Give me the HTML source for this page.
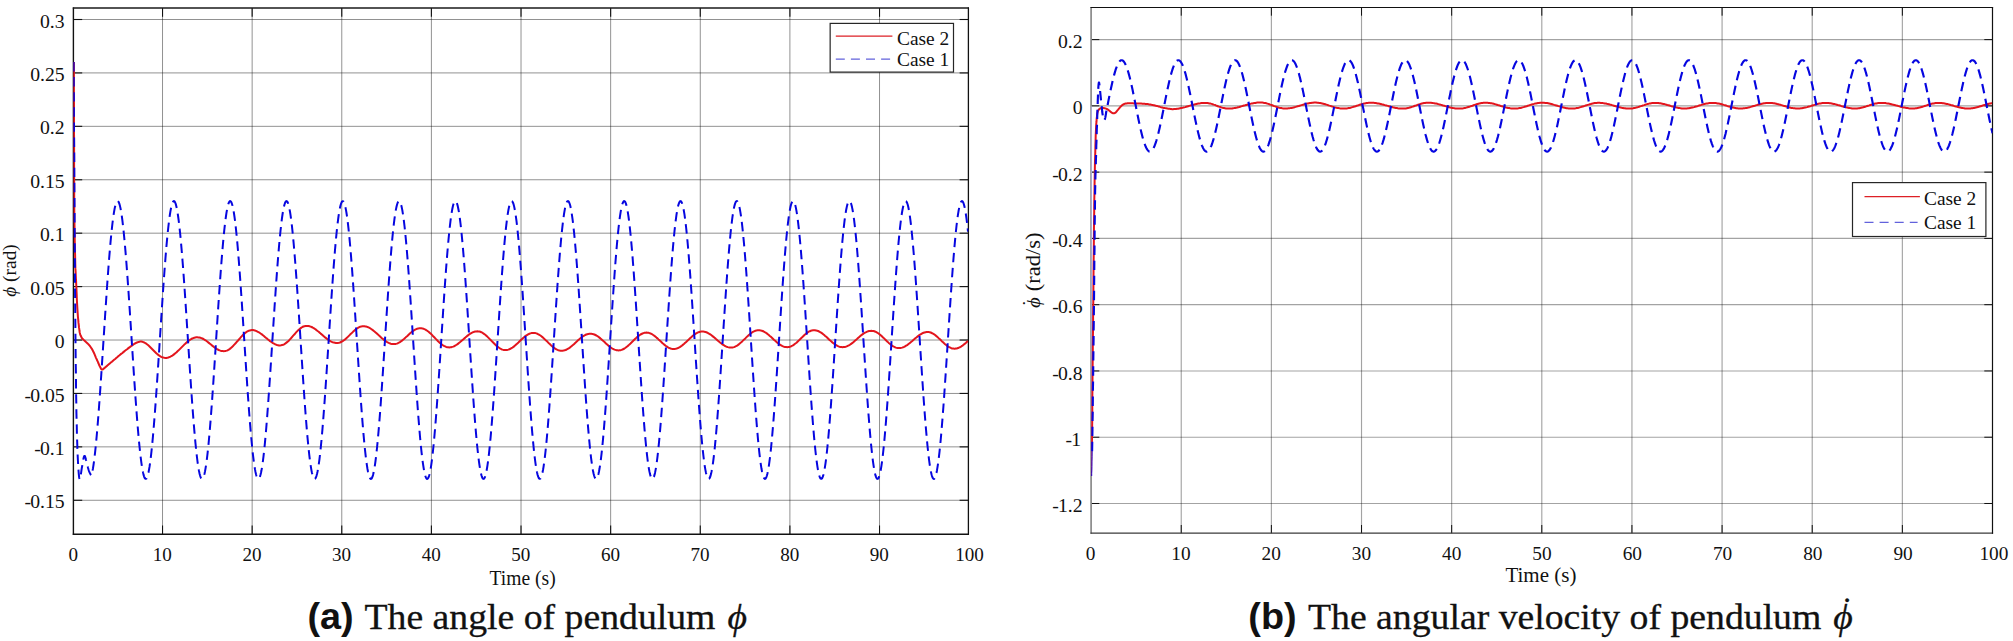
<!DOCTYPE html>
<html lang="en"><head><meta charset="utf-8"><title>Pendulum angle and angular velocity</title>
<style>html,body{margin:0;padding:0;background:#fff;overflow:hidden}svg{display:block}.se{font-family:"Liberation Serif",serif}.sa{font-family:"Liberation Sans",sans-serif}</style></head>
<body>
<svg width="2013" height="641" viewBox="0 0 2013 641">
<rect width="2013" height="641" fill="#fff"/>
<defs><clipPath id="cl"><rect x="73.4" y="8" width="894.9" height="526.4"/></clipPath><clipPath id="cr"><rect x="1091.1" y="7.5" width="901.4" height="525.6"/></clipPath></defs>
<g stroke="rgba(0,0,0,0.43)" stroke-width="1.0" fill="none">
<line x1="162.53" y1="8.0" x2="162.53" y2="534.3"/>
<line x1="252.15" y1="8.0" x2="252.15" y2="534.3"/>
<line x1="341.77" y1="8.0" x2="341.77" y2="534.3"/>
<line x1="431.40" y1="8.0" x2="431.40" y2="534.3"/>
<line x1="521.02" y1="8.0" x2="521.02" y2="534.3"/>
<line x1="610.65" y1="8.0" x2="610.65" y2="534.3"/>
<line x1="700.27" y1="8.0" x2="700.27" y2="534.3"/>
<line x1="789.90" y1="8.0" x2="789.90" y2="534.3"/>
<line x1="879.52" y1="8.0" x2="879.52" y2="534.3"/>
<line x1="73.4" y1="19.50" x2="968.4" y2="19.50"/>
<line x1="73.4" y1="72.92" x2="968.4" y2="72.92"/>
<line x1="73.4" y1="126.34" x2="968.4" y2="126.34"/>
<line x1="73.4" y1="179.76" x2="968.4" y2="179.76"/>
<line x1="73.4" y1="233.18" x2="968.4" y2="233.18"/>
<line x1="73.4" y1="286.60" x2="968.4" y2="286.60"/>
<line x1="73.4" y1="340.02" x2="968.4" y2="340.02"/>
<line x1="73.4" y1="393.44" x2="968.4" y2="393.44"/>
<line x1="73.4" y1="446.86" x2="968.4" y2="446.86"/>
<line x1="73.4" y1="500.28" x2="968.4" y2="500.28"/>
</g>
<g stroke="rgba(0,0,0,0.36)" stroke-width="1.15" fill="none">
<line x1="1181.24" y1="7.5" x2="1181.24" y2="533.2"/>
<line x1="1271.38" y1="7.5" x2="1271.38" y2="533.2"/>
<line x1="1361.52" y1="7.5" x2="1361.52" y2="533.2"/>
<line x1="1451.66" y1="7.5" x2="1451.66" y2="533.2"/>
<line x1="1541.80" y1="7.5" x2="1541.80" y2="533.2"/>
<line x1="1631.94" y1="7.5" x2="1631.94" y2="533.2"/>
<line x1="1722.08" y1="7.5" x2="1722.08" y2="533.2"/>
<line x1="1812.22" y1="7.5" x2="1812.22" y2="533.2"/>
<line x1="1902.36" y1="7.5" x2="1902.36" y2="533.2"/>
<line x1="1091.1" y1="39.60" x2="1992.5" y2="39.60"/>
<line x1="1091.1" y1="105.87" x2="1992.5" y2="105.87"/>
<line x1="1091.1" y1="172.14" x2="1992.5" y2="172.14"/>
<line x1="1091.1" y1="238.41" x2="1992.5" y2="238.41"/>
<line x1="1091.1" y1="304.68" x2="1992.5" y2="304.68"/>
<line x1="1091.1" y1="370.95" x2="1992.5" y2="370.95"/>
<line x1="1091.1" y1="437.22" x2="1992.5" y2="437.22"/>
<line x1="1091.1" y1="503.49" x2="1992.5" y2="503.49"/>
</g>
<g fill="none" stroke-linecap="butt">
<g stroke="#111" stroke-width="1.1">
<line x1="162.53" y1="534.3" x2="162.53" y2="525.5"/>
<line x1="162.53" y1="8.0" x2="162.53" y2="16.8"/>
<line x1="252.15" y1="534.3" x2="252.15" y2="525.5"/>
<line x1="252.15" y1="8.0" x2="252.15" y2="16.8"/>
<line x1="341.77" y1="534.3" x2="341.77" y2="525.5"/>
<line x1="341.77" y1="8.0" x2="341.77" y2="16.8"/>
<line x1="431.40" y1="534.3" x2="431.40" y2="525.5"/>
<line x1="431.40" y1="8.0" x2="431.40" y2="16.8"/>
<line x1="521.02" y1="534.3" x2="521.02" y2="525.5"/>
<line x1="521.02" y1="8.0" x2="521.02" y2="16.8"/>
<line x1="610.65" y1="534.3" x2="610.65" y2="525.5"/>
<line x1="610.65" y1="8.0" x2="610.65" y2="16.8"/>
<line x1="700.27" y1="534.3" x2="700.27" y2="525.5"/>
<line x1="700.27" y1="8.0" x2="700.27" y2="16.8"/>
<line x1="789.90" y1="534.3" x2="789.90" y2="525.5"/>
<line x1="789.90" y1="8.0" x2="789.90" y2="16.8"/>
<line x1="879.52" y1="534.3" x2="879.52" y2="525.5"/>
<line x1="879.52" y1="8.0" x2="879.52" y2="16.8"/>
<line x1="73.4" y1="19.50" x2="82.2" y2="19.50"/>
<line x1="968.4" y1="19.50" x2="959.6" y2="19.50"/>
<line x1="73.4" y1="72.92" x2="82.2" y2="72.92"/>
<line x1="968.4" y1="72.92" x2="959.6" y2="72.92"/>
<line x1="73.4" y1="126.34" x2="82.2" y2="126.34"/>
<line x1="968.4" y1="126.34" x2="959.6" y2="126.34"/>
<line x1="73.4" y1="179.76" x2="82.2" y2="179.76"/>
<line x1="968.4" y1="179.76" x2="959.6" y2="179.76"/>
<line x1="73.4" y1="233.18" x2="82.2" y2="233.18"/>
<line x1="968.4" y1="233.18" x2="959.6" y2="233.18"/>
<line x1="73.4" y1="286.60" x2="82.2" y2="286.60"/>
<line x1="968.4" y1="286.60" x2="959.6" y2="286.60"/>
<line x1="73.4" y1="340.02" x2="82.2" y2="340.02"/>
<line x1="968.4" y1="340.02" x2="959.6" y2="340.02"/>
<line x1="73.4" y1="393.44" x2="82.2" y2="393.44"/>
<line x1="968.4" y1="393.44" x2="959.6" y2="393.44"/>
<line x1="73.4" y1="446.86" x2="82.2" y2="446.86"/>
<line x1="968.4" y1="446.86" x2="959.6" y2="446.86"/>
<line x1="73.4" y1="500.28" x2="82.2" y2="500.28"/>
<line x1="968.4" y1="500.28" x2="959.6" y2="500.28"/>
</g>
<line x1="73.4" y1="7.4" x2="73.4" y2="534.9" stroke="#111" stroke-width="1.4"/>
<line x1="72.80000000000001" y1="534.3" x2="969.0" y2="534.3" stroke="#111" stroke-width="1.4"/>
<line x1="72.80000000000001" y1="8.0" x2="969.0" y2="8.0" stroke="#1a1a1a" stroke-width="1.3"/>
<line x1="968.4" y1="7.4" x2="968.4" y2="534.9" stroke="#111" stroke-width="1.3"/>
</g>
<g fill="none" stroke-linecap="butt">
<g stroke="#111" stroke-width="1.0">
<line x1="1181.24" y1="533.2" x2="1181.24" y2="525.0"/>
<line x1="1181.24" y1="7.5" x2="1181.24" y2="15.7"/>
<line x1="1271.38" y1="533.2" x2="1271.38" y2="525.0"/>
<line x1="1271.38" y1="7.5" x2="1271.38" y2="15.7"/>
<line x1="1361.52" y1="533.2" x2="1361.52" y2="525.0"/>
<line x1="1361.52" y1="7.5" x2="1361.52" y2="15.7"/>
<line x1="1451.66" y1="533.2" x2="1451.66" y2="525.0"/>
<line x1="1451.66" y1="7.5" x2="1451.66" y2="15.7"/>
<line x1="1541.80" y1="533.2" x2="1541.80" y2="525.0"/>
<line x1="1541.80" y1="7.5" x2="1541.80" y2="15.7"/>
<line x1="1631.94" y1="533.2" x2="1631.94" y2="525.0"/>
<line x1="1631.94" y1="7.5" x2="1631.94" y2="15.7"/>
<line x1="1722.08" y1="533.2" x2="1722.08" y2="525.0"/>
<line x1="1722.08" y1="7.5" x2="1722.08" y2="15.7"/>
<line x1="1812.22" y1="533.2" x2="1812.22" y2="525.0"/>
<line x1="1812.22" y1="7.5" x2="1812.22" y2="15.7"/>
<line x1="1902.36" y1="533.2" x2="1902.36" y2="525.0"/>
<line x1="1902.36" y1="7.5" x2="1902.36" y2="15.7"/>
<line x1="1091.1" y1="39.60" x2="1099.3" y2="39.60"/>
<line x1="1992.5" y1="39.60" x2="1984.3" y2="39.60"/>
<line x1="1091.1" y1="105.87" x2="1099.3" y2="105.87"/>
<line x1="1992.5" y1="105.87" x2="1984.3" y2="105.87"/>
<line x1="1091.1" y1="172.14" x2="1099.3" y2="172.14"/>
<line x1="1992.5" y1="172.14" x2="1984.3" y2="172.14"/>
<line x1="1091.1" y1="238.41" x2="1099.3" y2="238.41"/>
<line x1="1992.5" y1="238.41" x2="1984.3" y2="238.41"/>
<line x1="1091.1" y1="304.68" x2="1099.3" y2="304.68"/>
<line x1="1992.5" y1="304.68" x2="1984.3" y2="304.68"/>
<line x1="1091.1" y1="370.95" x2="1099.3" y2="370.95"/>
<line x1="1992.5" y1="370.95" x2="1984.3" y2="370.95"/>
<line x1="1091.1" y1="437.22" x2="1099.3" y2="437.22"/>
<line x1="1992.5" y1="437.22" x2="1984.3" y2="437.22"/>
<line x1="1091.1" y1="503.49" x2="1099.3" y2="503.49"/>
<line x1="1992.5" y1="503.49" x2="1984.3" y2="503.49"/>
</g>
<line x1="1091.1" y1="6.9" x2="1091.1" y2="533.8000000000001" stroke="#8a8a8a" stroke-width="1.7"/>
<line x1="1090.5" y1="533.2" x2="1993.1" y2="533.2" stroke="#3a3a3a" stroke-width="1.3"/>
<line x1="1090.5" y1="7.5" x2="1993.1" y2="7.5" stroke="#111" stroke-width="1.2"/>
<line x1="1992.5" y1="6.9" x2="1992.5" y2="533.8000000000001" stroke="#111" stroke-width="1.2"/>
</g>
<g clip-path="url(#cl)" fill="none" stroke-linejoin="round">
<path d="M73.9,62.0 L73.9,73.2 L73.9,88.6 L74.0,107.1 L74.0,127.2 L74.1,147.9 L74.1,167.8 L74.2,185.5 L74.2,200.0 L74.3,211.5 L74.4,221.3 L74.6,229.8 L74.7,237.1 L74.8,243.6 L74.9,249.4 L75.1,254.8 L75.2,260.0 L75.3,264.7 L75.4,268.4 L75.6,271.5 L75.7,274.0 L75.8,276.3 L75.9,278.6 L76.1,281.1 L76.2,284.0 L76.4,287.4 L76.5,290.9 L76.7,294.6 L76.8,298.3 L77.0,302.0 L77.2,305.5 L77.4,308.9 L77.6,312.0 L77.8,314.9 L78.0,317.7 L78.3,320.3 L78.5,322.9 L78.8,325.2 L79.0,327.4 L79.3,329.3 L79.5,331.0 L79.7,332.4 L80.0,333.6 L80.2,334.5 L80.5,335.2 L80.8,335.8 L81.0,336.3 L81.3,336.8 L81.5,337.3 L81.7,337.8 L82.0,338.1 L82.2,338.4 L82.4,338.7 L82.6,338.9 L82.8,339.1 L83.1,339.3 L83.4,339.6 L83.7,339.9 L84.1,340.3 L84.5,340.6 L84.9,341.0 L85.3,341.4 L85.7,341.7 L86.1,342.1 L86.5,342.5 L86.9,342.9 L87.3,343.2 L87.6,343.5 L88.0,343.9 L88.4,344.3 L88.8,344.7 L89.2,345.1 L89.6,345.6 L90.0,346.1 L90.4,346.7 L90.8,347.3 L91.2,347.9 L91.7,348.6 L92.1,349.3 L92.5,350.1 L93.0,351.0 L93.5,352.0 L94.0,353.0 L94.5,354.2 L95.0,355.4 L95.5,356.6 L96.0,357.8 L96.5,358.9 L97.0,360.0 L97.5,361.1 L98.0,362.2 L98.4,363.3 L98.9,364.3 L99.3,365.4 L99.8,366.3 L100.2,367.1 L100.5,367.8 L100.8,368.3 L101.0,368.7 L101.2,369.0 L101.4,369.3 L101.6,369.4 L101.7,369.5 L101.9,369.6 L102.1,369.6 L102.3,369.6 L102.5,369.6 L102.7,369.5 L102.9,369.3 L103.1,369.1 L103.4,368.9 L103.7,368.7 L104.0,368.4 L104.4,368.1 L104.8,367.8 L105.2,367.4 L105.6,367.1 L106.1,366.6 L106.7,366.2 L107.3,365.6 L108.0,365.0 L108.8,364.3 L109.8,363.5 L110.8,362.6 L111.9,361.7 L113.0,360.7 L114.1,359.8 L115.2,358.9 L116.2,358.0 L117.2,357.2 L118.2,356.3 L119.2,355.5 L120.1,354.7 L121.1,353.9 L122.1,353.2 L123.0,352.4 L124.0,351.6 L125.0,350.8 L126.0,350.0 L127.1,349.2 L128.1,348.4 L129.1,347.6 L130.1,346.9 L131.0,346.2 L131.8,345.6 L132.5,345.1 L133.2,344.6 L133.8,344.2 L134.4,343.9 L134.9,343.5 L135.5,343.2 L136.0,343.0 L136.5,342.7 L137.0,342.5 L137.6,342.3 L138.2,342.1 L138.7,341.9 L139.2,341.8 L139.6,341.7 L140.0,341.6 L140.3,341.5 L141.3,341.6 L142.3,341.8 L143.3,342.1 L144.3,342.5 L145.3,343.1 L146.3,343.7 L147.3,344.5 L148.3,345.3 L149.3,346.2 L150.3,347.2 L151.3,348.2 L152.3,349.2 L153.3,350.2 L154.3,351.2 L155.3,352.2 L156.3,353.2 L157.3,354.1 L158.3,354.9 L159.3,355.7 L160.3,356.3 L161.3,356.9 L162.3,357.3 L163.3,357.6 L164.3,357.8 L165.3,357.9 L166.3,357.9 L167.3,357.7 L168.3,357.5 L169.3,357.1 L170.3,356.7 L171.3,356.2 L172.3,355.6 L173.3,354.9 L174.3,354.1 L175.3,353.3 L176.3,352.5 L177.3,351.5 L178.3,350.6 L179.3,349.6 L180.3,348.6 L181.3,347.6 L182.3,346.6 L183.3,345.6 L184.3,344.6 L185.3,343.7 L186.3,342.7 L187.3,341.9 L188.3,341.1 L189.3,340.3 L190.3,339.6 L191.3,339.0 L192.3,338.5 L193.3,338.1 L194.3,337.7 L195.3,337.5 L196.3,337.3 L197.3,337.3 L198.3,337.4 L199.3,337.5 L200.4,337.8 L201.4,338.1 L202.4,338.5 L203.4,339.0 L204.4,339.6 L205.5,340.3 L206.5,341.0 L207.5,341.8 L208.5,342.6 L209.5,343.4 L210.6,344.2 L211.6,345.1 L212.6,345.9 L213.6,346.7 L214.6,347.5 L215.6,348.2 L216.7,348.9 L217.7,349.5 L218.7,350.0 L219.7,350.4 L220.7,350.7 L221.8,351.0 L222.8,351.1 L223.8,351.2 L224.8,351.1 L225.8,350.9 L226.8,350.6 L227.8,350.2 L228.8,349.6 L229.8,348.9 L230.8,348.1 L231.8,347.2 L232.8,346.3 L233.8,345.2 L234.8,344.1 L235.8,343.0 L236.8,341.8 L237.9,340.7 L238.9,339.5 L239.9,338.3 L240.9,337.2 L241.9,336.1 L242.9,335.0 L243.9,334.1 L244.9,333.2 L245.9,332.4 L246.9,331.7 L247.9,331.1 L248.9,330.7 L249.9,330.4 L250.9,330.2 L251.9,330.1 L252.9,330.1 L253.9,330.3 L254.9,330.5 L255.9,330.9 L256.9,331.3 L257.9,331.8 L258.9,332.3 L259.9,333.0 L260.9,333.7 L261.9,334.4 L262.9,335.2 L263.9,336.0 L264.9,336.9 L265.9,337.8 L267.0,338.6 L268.0,339.5 L269.0,340.3 L270.0,341.1 L271.0,341.8 L272.0,342.5 L273.0,343.2 L274.0,343.7 L275.0,344.2 L276.0,344.6 L277.0,345.0 L278.0,345.2 L279.0,345.4 L280.0,345.4 L281.0,345.3 L282.0,345.1 L283.1,344.8 L284.1,344.3 L285.1,343.7 L286.1,342.9 L287.1,342.1 L288.2,341.2 L289.2,340.2 L290.2,339.1 L291.2,338.0 L292.2,336.8 L293.2,335.6 L294.3,334.5 L295.3,333.3 L296.3,332.2 L297.3,331.1 L298.3,330.1 L299.4,329.2 L300.4,328.4 L301.4,327.6 L302.4,327.0 L303.4,326.5 L304.5,326.2 L305.5,326.0 L306.5,325.9 L307.5,325.9 L308.5,326.1 L309.5,326.3 L310.6,326.6 L311.6,327.0 L312.6,327.5 L313.6,328.1 L314.6,328.7 L315.6,329.4 L316.6,330.2 L317.6,331.0 L318.7,331.8 L319.7,332.7 L320.7,333.6 L321.7,334.4 L322.7,335.3 L323.7,336.2 L324.7,337.1 L325.8,337.9 L326.8,338.7 L327.8,339.5 L328.8,340.2 L329.8,340.8 L330.8,341.4 L331.8,341.9 L332.8,342.3 L333.9,342.6 L334.9,342.8 L335.9,343.0 L336.9,343.0 L337.9,342.9 L338.9,342.8 L340.0,342.5 L341.0,342.0 L342.0,341.5 L343.0,340.9 L344.0,340.2 L345.1,339.4 L346.1,338.5 L347.1,337.6 L348.1,336.6 L349.1,335.6 L350.1,334.6 L351.2,333.6 L352.2,332.6 L353.2,331.6 L354.2,330.7 L355.2,329.8 L356.3,329.0 L357.3,328.3 L358.3,327.7 L359.3,327.2 L360.3,326.7 L361.4,326.4 L362.4,326.3 L363.4,326.2 L364.4,326.2 L365.4,326.4 L366.4,326.6 L367.5,327.0 L368.5,327.4 L369.5,327.9 L370.5,328.5 L371.5,329.2 L372.5,329.9 L373.5,330.7 L374.5,331.5 L375.6,332.4 L376.6,333.3 L377.6,334.2 L378.6,335.1 L379.6,336.1 L380.6,337.0 L381.6,337.9 L382.7,338.8 L383.7,339.6 L384.7,340.4 L385.7,341.1 L386.7,341.8 L387.7,342.4 L388.7,342.9 L389.7,343.3 L390.8,343.7 L391.8,343.9 L392.8,344.1 L393.8,344.1 L394.8,344.0 L395.8,343.9 L396.9,343.6 L397.9,343.2 L398.9,342.7 L399.9,342.1 L400.9,341.4 L402.0,340.7 L403.0,339.8 L404.0,339.0 L405.0,338.1 L406.0,337.1 L407.1,336.2 L408.1,335.2 L409.1,334.2 L410.1,333.3 L411.1,332.5 L412.1,331.6 L413.2,330.9 L414.2,330.2 L415.2,329.6 L416.2,329.1 L417.2,328.7 L418.3,328.4 L419.3,328.3 L420.3,328.2 L421.3,328.3 L422.4,328.4 L423.4,328.7 L424.4,329.2 L425.5,329.7 L426.5,330.3 L427.5,331.0 L428.6,331.8 L429.6,332.7 L430.6,333.6 L431.7,334.6 L432.7,335.7 L433.7,336.7 L434.8,337.8 L435.8,338.9 L436.8,339.9 L437.8,341.0 L438.9,342.0 L439.9,342.9 L440.9,343.8 L442.0,344.6 L443.0,345.3 L444.0,345.9 L445.1,346.4 L446.1,346.9 L447.1,347.2 L448.2,347.3 L449.2,347.4 L450.2,347.3 L451.2,347.2 L452.2,346.9 L453.2,346.6 L454.2,346.2 L455.2,345.6 L456.2,345.0 L457.2,344.4 L458.2,343.6 L459.2,342.8 L460.2,342.0 L461.2,341.1 L462.2,340.3 L463.2,339.4 L464.3,338.4 L465.3,337.6 L466.3,336.7 L467.3,335.9 L468.3,335.1 L469.3,334.3 L470.3,333.7 L471.3,333.1 L472.3,332.5 L473.3,332.1 L474.3,331.8 L475.3,331.5 L476.3,331.4 L477.3,331.3 L478.3,331.4 L479.3,331.5 L480.3,331.8 L481.3,332.2 L482.3,332.7 L483.3,333.4 L484.3,334.1 L485.3,334.8 L486.3,335.7 L487.3,336.6 L488.3,337.6 L489.3,338.6 L490.3,339.6 L491.4,340.7 L492.4,341.8 L493.4,342.8 L494.4,343.8 L495.4,344.8 L496.4,345.7 L497.4,346.6 L498.4,347.3 L499.4,348.0 L500.4,348.7 L501.4,349.2 L502.4,349.6 L503.4,349.9 L504.4,350.0 L505.4,350.1 L506.4,350.0 L507.4,349.9 L508.4,349.6 L509.4,349.2 L510.4,348.8 L511.4,348.2 L512.4,347.6 L513.4,346.9 L514.4,346.1 L515.4,345.2 L516.4,344.3 L517.4,343.4 L518.4,342.5 L519.4,341.5 L520.4,340.5 L521.4,339.6 L522.4,338.7 L523.4,337.8 L524.4,336.9 L525.4,336.1 L526.4,335.4 L527.4,334.8 L528.4,334.2 L529.4,333.8 L530.4,333.4 L531.4,333.1 L532.4,333.0 L533.4,332.9 L534.4,333.0 L535.4,333.1 L536.4,333.4 L537.4,333.8 L538.4,334.3 L539.4,334.9 L540.4,335.5 L541.4,336.3 L542.4,337.1 L543.4,338.0 L544.4,338.9 L545.4,339.9 L546.4,340.8 L547.5,341.8 L548.5,342.9 L549.5,343.8 L550.5,344.8 L551.5,345.7 L552.5,346.6 L553.5,347.4 L554.5,348.2 L555.5,348.8 L556.5,349.4 L557.5,349.9 L558.5,350.3 L559.5,350.6 L560.5,350.7 L561.5,350.8 L562.5,350.7 L563.6,350.6 L564.6,350.3 L565.6,350.0 L566.7,349.5 L567.7,348.9 L568.7,348.3 L569.8,347.6 L570.8,346.8 L571.8,346.0 L572.9,345.1 L573.9,344.2 L574.9,343.2 L576.0,342.2 L577.0,341.3 L578.0,340.3 L579.0,339.4 L580.1,338.5 L581.1,337.7 L582.1,336.9 L583.2,336.2 L584.2,335.6 L585.2,335.0 L586.3,334.5 L587.3,334.2 L588.3,333.9 L589.4,333.8 L590.4,333.7 L591.4,333.8 L592.4,333.9 L593.4,334.2 L594.4,334.5 L595.4,335.0 L596.4,335.5 L597.4,336.1 L598.4,336.8 L599.4,337.6 L600.4,338.4 L601.4,339.3 L602.4,340.2 L603.4,341.1 L604.5,342.0 L605.5,343.0 L606.5,343.9 L607.5,344.8 L608.5,345.7 L609.5,346.5 L610.5,347.3 L611.5,348.0 L612.5,348.6 L613.5,349.1 L614.5,349.6 L615.5,349.9 L616.5,350.2 L617.5,350.3 L618.5,350.4 L619.5,350.3 L620.5,350.2 L621.5,349.9 L622.5,349.5 L623.5,349.0 L624.5,348.5 L625.5,347.8 L626.5,347.0 L627.5,346.2 L628.5,345.4 L629.5,344.4 L630.5,343.5 L631.5,342.5 L632.5,341.5 L633.5,340.5 L634.5,339.5 L635.5,338.6 L636.5,337.6 L637.5,336.8 L638.5,336.0 L639.5,335.2 L640.5,334.5 L641.5,334.0 L642.5,333.5 L643.5,333.1 L644.5,332.8 L645.5,332.7 L646.5,332.6 L647.5,332.7 L648.5,332.8 L649.5,333.1 L650.5,333.5 L651.5,333.9 L652.5,334.5 L653.5,335.2 L654.5,335.9 L655.5,336.7 L656.5,337.6 L657.5,338.4 L658.5,339.4 L659.5,340.3 L660.6,341.3 L661.6,342.2 L662.6,343.2 L663.6,344.0 L664.6,344.9 L665.6,345.7 L666.6,346.4 L667.6,347.1 L668.6,347.7 L669.6,348.1 L670.6,348.5 L671.6,348.8 L672.6,348.9 L673.6,349.0 L674.6,348.9 L675.6,348.8 L676.7,348.5 L677.7,348.1 L678.7,347.7 L679.8,347.1 L680.8,346.4 L681.8,345.7 L682.8,344.9 L683.9,344.0 L684.9,343.1 L685.9,342.2 L686.9,341.2 L688.0,340.2 L689.0,339.3 L690.0,338.3 L691.0,337.4 L692.0,336.5 L693.1,335.6 L694.1,334.8 L695.1,334.1 L696.1,333.4 L697.2,332.8 L698.2,332.4 L699.2,332.0 L700.2,331.7 L701.3,331.6 L702.3,331.5 L703.3,331.6 L704.3,331.7 L705.4,332.0 L706.4,332.3 L707.4,332.7 L708.4,333.3 L709.4,333.9 L710.5,334.5 L711.5,335.3 L712.5,336.1 L713.5,336.9 L714.6,337.8 L715.6,338.6 L716.6,339.6 L717.6,340.5 L718.6,341.3 L719.7,342.2 L720.7,343.0 L721.7,343.8 L722.7,344.6 L723.8,345.2 L724.8,345.8 L725.8,346.4 L726.8,346.8 L727.8,347.1 L728.9,347.4 L729.9,347.5 L730.9,347.6 L731.9,347.5 L733.0,347.4 L734.0,347.1 L735.0,346.7 L736.0,346.2 L737.1,345.6 L738.1,344.9 L739.1,344.1 L740.1,343.2 L741.2,342.3 L742.2,341.4 L743.2,340.4 L744.2,339.4 L745.3,338.4 L746.3,337.4 L747.3,336.4 L748.3,335.5 L749.4,334.6 L750.4,333.7 L751.4,332.9 L752.4,332.2 L753.5,331.6 L754.5,331.1 L755.5,330.7 L756.5,330.4 L757.6,330.3 L758.6,330.2 L759.6,330.3 L760.6,330.4 L761.7,330.7 L762.7,331.0 L763.7,331.5 L764.7,332.1 L765.8,332.7 L766.8,333.4 L767.8,334.2 L768.8,335.0 L769.8,335.9 L770.9,336.8 L771.9,337.7 L772.9,338.7 L773.9,339.7 L774.9,340.6 L776.0,341.5 L777.0,342.4 L778.0,343.2 L779.0,344.0 L780.1,344.7 L781.1,345.3 L782.1,345.9 L783.1,346.4 L784.1,346.7 L785.2,347.0 L786.2,347.1 L787.2,347.2 L788.2,347.1 L789.3,347.0 L790.3,346.6 L791.3,346.2 L792.4,345.7 L793.4,345.1 L794.4,344.3 L795.4,343.5 L796.5,342.7 L797.5,341.7 L798.5,340.7 L799.6,339.7 L800.6,338.7 L801.6,337.7 L802.7,336.7 L803.7,335.7 L804.7,334.7 L805.8,333.9 L806.8,333.1 L807.8,332.3 L808.8,331.7 L809.9,331.2 L810.9,330.8 L811.9,330.4 L813.0,330.3 L814.0,330.2 L815.0,330.3 L816.0,330.4 L817.1,330.7 L818.1,331.0 L819.1,331.5 L820.1,332.1 L821.1,332.7 L822.2,333.4 L823.2,334.2 L824.2,335.0 L825.2,335.9 L826.3,336.8 L827.3,337.7 L828.3,338.7 L829.3,339.7 L830.3,340.6 L831.4,341.5 L832.4,342.4 L833.4,343.2 L834.4,344.0 L835.5,344.7 L836.5,345.3 L837.5,345.9 L838.5,346.4 L839.5,346.7 L840.6,347.0 L841.6,347.1 L842.6,347.2 L843.6,347.1 L844.6,347.0 L845.7,346.7 L846.7,346.4 L847.7,345.9 L848.8,345.4 L849.8,344.8 L850.8,344.1 L851.8,343.4 L852.9,342.6 L853.9,341.7 L854.9,340.8 L855.9,339.9 L857.0,339.0 L858.0,338.1 L859.0,337.2 L860.0,336.3 L861.0,335.4 L862.1,334.6 L863.1,333.9 L864.1,333.2 L865.1,332.6 L866.2,332.1 L867.2,331.6 L868.2,331.3 L869.2,331.0 L870.3,330.9 L871.3,330.8 L872.3,330.9 L873.4,331.0 L874.4,331.3 L875.4,331.7 L876.4,332.2 L877.5,332.8 L878.5,333.5 L879.5,334.3 L880.5,335.1 L881.6,336.0 L882.6,337.0 L883.6,337.9 L884.6,338.9 L885.7,340.0 L886.7,341.0 L887.7,341.9 L888.7,342.9 L889.8,343.8 L890.8,344.6 L891.8,345.4 L892.8,346.1 L893.9,346.7 L894.9,347.2 L895.9,347.6 L896.9,347.9 L898.0,348.0 L899.0,348.1 L900.0,348.0 L901.0,347.9 L902.1,347.6 L903.1,347.3 L904.1,346.9 L905.1,346.3 L906.1,345.7 L907.2,345.1 L908.2,344.3 L909.2,343.5 L910.2,342.7 L911.3,341.8 L912.3,341.0 L913.3,340.1 L914.3,339.1 L915.3,338.3 L916.4,337.4 L917.4,336.6 L918.4,335.8 L919.4,335.0 L920.5,334.4 L921.5,333.8 L922.5,333.2 L923.5,332.8 L924.5,332.5 L925.6,332.2 L926.6,332.1 L927.6,332.0 L928.6,332.1 L929.7,332.2 L930.7,332.5 L931.7,333.0 L932.8,333.5 L933.8,334.1 L934.8,334.8 L935.8,335.6 L936.9,336.5 L937.9,337.4 L938.9,338.4 L940.0,339.3 L941.0,340.3 L942.0,341.4 L943.1,342.3 L944.1,343.3 L945.1,344.2 L946.2,345.1 L947.2,345.9 L948.2,346.6 L949.2,347.2 L950.3,347.7 L951.3,348.2 L952.3,348.5 L953.4,348.6 L954.4,348.7 L955.0,348.7 L955.5,348.6 L956.0,348.6 L956.5,348.5 L957.0,348.4 L957.5,348.2 L958.0,348.0 L958.5,347.9 L959.0,347.6 L959.5,347.4 L960.0,347.2 L960.5,346.9 L961.0,346.6 L961.5,346.3 L962.0,345.9 L962.5,345.6 L963.0,345.2 L963.5,344.8 L964.0,344.4 L964.5,344.0 L965.0,343.6 L965.5,343.2 L966.0,342.8 L966.5,342.3 L967.0,341.9 L967.5,341.4 L968.0,341.0" stroke="#e3151d" stroke-width="2.0"/>
<path d="M73.6,62.0 L73.6,68.7 L73.7,77.5 L73.8,88.0 L73.9,99.8 L73.9,112.3 L74.0,125.1 L74.1,137.8 L74.2,150.0 L74.3,162.0 L74.3,174.4 L74.4,187.1 L74.5,199.9 L74.6,212.7 L74.6,225.4 L74.7,237.9 L74.8,250.0 L74.9,261.8 L75.0,273.4 L75.0,284.9 L75.1,296.2 L75.2,307.4 L75.3,318.4 L75.4,329.3 L75.5,340.0 L75.6,350.7 L75.7,361.6 L75.9,372.4 L76.0,383.0 L76.1,393.2 L76.3,402.9 L76.4,411.9 L76.6,420.0 L76.8,427.2 L76.9,433.7 L77.1,439.6 L77.3,444.9 L77.4,449.7 L77.6,454.1 L77.8,458.2 L78.0,462.0 L78.2,465.6 L78.4,468.8 L78.6,471.6 L78.8,474.1 L79.0,476.1 L79.2,477.7 L79.5,478.8 L79.7,479.4 L80.0,479.3 L80.2,478.4 L80.5,476.9 L80.8,475.0 L81.1,472.9 L81.4,470.7 L81.7,468.7 L82.0,467.0 L82.3,465.4 L82.6,463.8 L82.9,462.0 L83.2,460.4 L83.4,458.9 L83.7,457.6 L84.0,456.6 L84.3,456.0 L84.6,455.9 L84.9,456.1 L85.1,456.7 L85.4,457.5 L85.7,458.5 L85.9,459.5 L86.2,460.5 L86.5,461.5 L86.8,462.5 L87.1,463.6 L87.3,464.8 L87.6,466.0 L87.9,467.3 L88.2,468.4 L88.5,469.5 L88.8,470.5 L89.1,471.4 L89.5,472.2 L89.8,472.9 L90.2,473.6 L90.5,474.2 L90.8,474.8 L91.1,475.2 L91.2,475.6 L91.5,475.3 L92.0,473.3 L92.5,470.9 L93.0,468.2 L93.5,465.0 L94.0,461.4 L94.5,457.4 L95.0,453.1 L95.5,448.5 L96.0,443.4 L96.5,438.1 L97.0,432.5 L97.5,426.6 L98.0,420.4 L98.5,413.9 L99.0,407.2 L99.5,400.4 L100.0,393.3 L100.5,386.0 L101.0,378.7 L101.5,371.2 L102.0,363.6 L102.5,355.9 L103.0,348.2 L103.5,340.4 L104.0,332.7 L104.5,325.0 L105.0,317.3 L105.5,309.7 L106.0,302.2 L106.5,294.8 L107.0,287.5 L107.5,280.4 L108.0,273.5 L108.5,266.8 L109.0,260.3 L109.5,254.1 L110.0,248.2 L110.5,242.5 L111.0,237.1 L111.5,232.1 L112.0,227.4 L112.5,223.0 L113.0,219.0 L113.5,215.4 L114.0,212.2 L114.5,209.3 L115.0,206.9 L115.5,204.9 L116.0,203.3 L116.5,202.2 L117.0,201.4 L117.5,201.1 L118.0,201.2 L118.5,201.8 L119.0,202.8 L119.5,204.2 L120.0,206.1 L120.5,208.3 L121.0,211.0 L121.5,214.1 L122.0,217.5 L122.5,221.4 L123.0,225.6 L123.5,230.2 L124.0,235.1 L124.5,240.3 L125.0,245.9 L125.5,251.7 L126.0,257.8 L126.5,264.2 L127.0,270.8 L127.5,277.6 L128.0,284.6 L128.5,291.8 L129.0,299.2 L129.5,306.6 L130.0,314.2 L130.5,321.9 L131.0,329.6 L131.5,337.3 L132.0,345.1 L132.5,352.8 L133.0,360.5 L133.5,368.1 L134.0,375.7 L134.5,383.1 L135.0,390.4 L135.5,397.6 L136.0,404.5 L136.5,411.3 L137.0,417.8 L137.5,424.1 L138.0,430.1 L138.5,435.9 L139.0,441.4 L139.5,446.5 L140.0,451.3 L140.5,455.8 L141.0,459.9 L141.5,463.6 L142.0,466.9 L142.5,469.9 L143.0,472.4 L143.5,474.6 L144.0,476.3 L144.5,477.6 L145.0,478.4 L145.5,478.8 L146.0,478.8 L146.5,478.4 L147.0,477.5 L147.5,476.2 L148.0,474.5 L148.5,472.4 L149.0,469.8 L149.5,466.9 L150.0,463.5 L150.5,459.8 L151.0,455.7 L151.5,451.2 L152.0,446.4 L152.5,441.2 L153.0,435.8 L153.5,430.0 L154.0,424.0 L154.5,417.7 L155.0,411.1 L155.5,404.4 L156.0,397.4 L156.5,390.3 L157.0,383.0 L157.5,375.5 L158.0,368.0 L158.5,360.4 L159.0,352.7 L159.5,344.9 L160.0,337.2 L160.5,329.4 L161.0,321.7 L161.5,314.1 L162.0,306.5 L162.5,299.0 L163.0,291.7 L163.5,284.5 L164.0,277.5 L164.5,270.7 L165.0,264.1 L165.5,257.7 L166.0,251.6 L166.5,245.7 L167.0,240.2 L167.5,235.0 L168.0,230.1 L168.5,225.5 L169.0,221.3 L169.5,217.5 L170.0,214.0 L170.5,210.9 L171.0,208.3 L171.5,206.0 L172.0,204.2 L172.5,202.8 L173.0,201.8 L173.5,201.2 L174.0,201.1 L174.5,201.4 L175.0,202.2 L175.5,203.3 L176.0,204.9 L176.5,207.0 L177.0,209.4 L177.5,212.2 L178.0,215.5 L178.5,219.1 L179.0,223.1 L179.5,227.5 L180.0,232.2 L180.5,237.2 L181.0,242.6 L181.5,248.3 L182.0,254.2 L182.5,260.5 L183.0,266.9 L183.5,273.6 L184.0,280.6 L184.5,287.6 L185.0,294.9 L185.5,302.3 L186.0,309.8 L186.5,317.4 L187.0,325.1 L187.5,332.8 L188.0,340.6 L188.5,348.3 L189.0,356.0 L189.5,363.7 L190.0,371.3 L190.5,378.8 L191.0,386.2 L191.5,393.4 L192.0,400.5 L192.5,407.4 L193.0,414.0 L193.5,420.5 L194.0,426.7 L194.5,432.6 L195.0,438.2 L195.5,443.5 L196.0,448.6 L196.5,453.2 L197.0,457.5 L197.5,461.5 L198.0,465.0 L198.5,468.2 L199.0,471.0 L199.5,473.4 L200.0,475.3 L200.5,476.9 L201.0,478.0 L201.5,478.6 L202.0,478.9 L202.5,478.7 L203.0,478.1 L203.5,477.0 L204.0,475.6 L204.5,473.7 L205.0,471.4 L205.5,468.6 L206.0,465.5 L206.5,462.0 L207.0,458.1 L207.5,453.8 L208.0,449.2 L208.5,444.3 L209.0,439.0 L209.5,433.4 L210.0,427.5 L210.5,421.4 L211.0,415.0 L211.5,408.3 L212.0,401.5 L212.5,394.4 L213.0,387.2 L213.5,379.9 L214.0,372.4 L214.5,364.8 L215.0,357.1 L215.5,349.4 L216.0,341.7 L216.5,333.9 L217.0,326.2 L217.5,318.5 L218.0,310.9 L218.5,303.3 L219.0,295.9 L219.5,288.7 L220.0,281.5 L220.5,274.6 L221.0,267.9 L221.5,261.4 L222.0,255.1 L222.5,249.1 L223.0,243.4 L223.5,238.0 L224.0,232.9 L224.5,228.1 L225.0,223.7 L225.5,219.6 L226.0,216.0 L226.5,212.7 L227.0,209.8 L227.5,207.3 L228.0,205.2 L228.5,203.5 L229.0,202.3 L229.5,201.5 L230.0,201.1 L230.5,201.2 L231.0,201.7 L231.5,202.6 L232.0,204.0 L232.5,205.7 L233.0,207.9 L233.5,210.5 L234.0,213.5 L234.5,216.9 L235.0,220.7 L235.5,224.9 L236.0,229.4 L236.5,234.3 L237.0,239.4 L237.5,244.9 L238.0,250.7 L238.5,256.8 L239.0,263.2 L239.5,269.7 L240.0,276.5 L240.5,283.5 L241.0,290.7 L241.5,298.0 L242.0,305.4 L242.5,313.0 L243.0,320.6 L243.5,328.3 L244.0,336.1 L244.5,343.8 L245.0,351.6 L245.5,359.3 L246.0,366.9 L246.5,374.5 L247.0,381.9 L247.5,389.3 L248.0,396.4 L248.5,403.4 L249.0,410.2 L249.5,416.8 L250.0,423.1 L250.5,429.2 L251.0,435.0 L251.5,440.5 L252.0,445.7 L252.5,450.6 L253.0,455.1 L253.5,459.2 L254.0,463.0 L254.5,466.4 L255.0,469.4 L255.5,472.0 L256.0,474.2 L256.5,476.0 L257.0,477.4 L257.5,478.3 L258.0,478.8 L258.5,478.9 L259.0,478.5 L259.5,477.7 L260.0,476.5 L260.5,474.8 L261.0,472.7 L261.5,470.3 L262.0,467.4 L262.5,464.1 L263.0,460.4 L263.5,456.4 L264.0,451.9 L264.5,447.2 L265.0,442.1 L265.5,436.7 L266.0,431.0 L266.5,425.0 L267.0,418.7 L267.5,412.2 L268.0,405.5 L268.5,398.5 L269.0,391.4 L269.5,384.1 L270.0,376.7 L270.5,369.2 L271.0,361.6 L271.5,353.9 L272.0,346.2 L272.5,338.4 L273.0,330.7 L273.5,323.0 L274.0,315.3 L274.5,307.7 L275.0,300.2 L275.5,292.9 L276.0,285.6 L276.5,278.6 L277.0,271.7 L277.5,265.1 L278.0,258.7 L278.5,252.5 L279.0,246.7 L279.5,241.1 L280.0,235.8 L280.5,230.8 L281.0,226.2 L281.5,221.9 L282.0,218.0 L282.5,214.5 L283.0,211.4 L283.5,208.7 L284.0,206.4 L284.5,204.5 L285.0,203.0 L285.5,201.9 L286.0,201.3 L286.5,201.1 L287.0,201.4 L287.5,202.0 L288.0,203.1 L288.5,204.7 L289.0,206.6 L289.5,209.0 L290.0,211.8 L290.5,214.9 L291.0,218.5 L291.5,222.4 L292.0,226.7 L292.5,231.4 L293.0,236.4 L293.5,241.7 L294.0,247.3 L294.5,253.3 L295.0,259.5 L295.5,265.9 L296.0,272.6 L296.5,279.4 L297.0,286.5 L297.5,293.7 L298.0,301.1 L298.5,308.6 L299.0,316.2 L299.5,323.9 L300.0,331.6 L300.5,339.3 L301.0,347.1 L301.5,354.8 L302.0,362.5 L302.5,370.1 L303.0,377.6 L303.5,385.0 L304.0,392.3 L304.5,399.4 L305.0,406.3 L305.5,413.0 L306.0,419.5 L306.5,425.7 L307.0,431.7 L307.5,437.3 L308.0,442.7 L308.5,447.8 L309.0,452.5 L309.5,456.9 L310.0,460.9 L310.5,464.5 L311.0,467.7 L311.5,470.6 L312.0,473.0 L312.5,475.0 L313.0,476.6 L313.5,477.8 L314.0,478.6 L314.5,478.9 L315.0,478.8 L315.5,478.2 L316.0,477.2 L316.5,475.8 L317.0,474.0 L317.5,471.8 L318.0,469.1 L318.5,466.0 L319.0,462.6 L319.5,458.8 L320.0,454.5 L320.5,450.0 L321.0,445.1 L321.5,439.9 L322.0,434.3 L322.5,428.5 L323.0,422.4 L323.5,416.0 L324.0,409.4 L324.5,402.6 L325.0,395.6 L325.5,388.4 L326.0,381.0 L326.5,373.6 L327.0,366.0 L327.5,358.4 L328.0,350.6 L328.5,342.9 L329.0,335.2 L329.5,327.4 L330.0,319.7 L330.5,312.1 L331.0,304.5 L331.5,297.1 L332.0,289.8 L332.5,282.7 L333.0,275.7 L333.5,268.9 L334.0,262.4 L334.5,256.1 L335.0,250.0 L335.5,244.3 L336.0,238.8 L336.5,233.7 L337.0,228.8 L337.5,224.4 L338.0,220.3 L338.5,216.5 L339.0,213.2 L339.5,210.2 L340.0,207.6 L340.5,205.5 L341.0,203.8 L341.5,202.5 L342.0,201.6 L342.5,201.2 L343.0,201.2 L343.5,201.6 L344.0,202.4 L344.5,203.7 L345.0,205.4 L345.5,207.6 L346.0,210.1 L346.5,213.0 L347.0,216.4 L347.5,220.1 L348.0,224.2 L348.5,228.7 L349.0,233.5 L349.5,238.6 L350.0,244.0 L350.5,249.8 L351.0,255.8 L351.5,262.1 L352.0,268.7 L352.5,275.4 L353.0,282.4 L353.5,289.5 L354.0,296.8 L354.5,304.2 L355.0,311.8 L355.5,319.4 L356.0,327.1 L356.5,334.8 L357.0,342.6 L357.5,350.3 L358.0,358.0 L358.5,365.7 L359.0,373.3 L359.5,380.7 L360.0,388.1 L360.5,395.3 L361.0,402.3 L361.5,409.1 L362.0,415.7 L362.5,422.1 L363.0,428.2 L363.5,434.1 L364.0,439.6 L364.5,444.9 L365.0,449.8 L365.5,454.4 L366.0,458.6 L366.5,462.4 L367.0,465.9 L367.5,469.0 L368.0,471.7 L368.5,473.9 L369.0,475.8 L369.5,477.2 L370.0,478.2 L370.5,478.8 L371.0,478.9 L371.5,478.6 L372.0,477.9 L372.5,476.7 L373.0,475.1 L373.5,473.1 L374.0,470.7 L374.5,467.9 L375.0,464.6 L375.5,461.0 L376.0,457.0 L376.5,452.7 L377.0,448.0 L377.5,442.9 L378.0,437.6 L378.5,431.9 L379.0,425.9 L379.5,419.7 L380.0,413.3 L380.5,406.6 L381.0,399.7 L381.5,392.6 L382.0,385.3 L382.5,377.9 L383.0,370.4 L383.5,362.8 L384.0,355.1 L384.5,347.4 L385.0,339.7 L385.5,331.9 L386.0,324.2 L386.5,316.5 L387.0,308.9 L387.5,301.4 L388.0,294.0 L388.5,286.8 L389.0,279.7 L389.5,272.8 L390.0,266.1 L390.5,259.7 L391.0,253.5 L391.5,247.6 L392.0,241.9 L392.5,236.6 L393.0,231.6 L393.5,226.9 L394.0,222.6 L394.5,218.6 L395.0,215.1 L395.5,211.9 L396.0,209.1 L396.5,206.7 L397.0,204.7 L397.5,203.2 L398.0,202.1 L398.5,201.4 L399.0,201.1 L399.5,201.3 L400.0,201.9 L400.5,202.9 L401.0,204.4 L401.5,206.3 L402.0,208.6 L402.5,211.3 L403.0,214.4 L403.5,217.9 L404.0,221.8 L404.5,226.0 L405.0,230.6 L405.5,235.6 L406.0,240.8 L406.5,246.4 L407.0,252.3 L407.5,258.4 L408.0,264.8 L408.5,271.5 L409.0,278.3 L409.5,285.4 L410.0,292.6 L410.5,299.9 L411.0,307.4 L411.5,315.0 L412.0,322.6 L412.5,330.4 L413.0,338.1 L413.5,345.9 L414.0,353.6 L414.5,361.3 L415.0,368.9 L415.5,376.4 L416.0,383.8 L416.5,391.1 L417.0,398.3 L417.5,405.2 L418.0,411.9 L418.5,418.5 L419.0,424.7 L419.5,430.7 L420.0,436.5 L420.5,441.9 L421.0,447.0 L421.5,451.8 L422.0,456.2 L422.5,460.3 L423.0,463.9 L423.5,467.2 L424.0,470.2 L424.5,472.7 L425.0,474.7 L425.5,476.4 L426.0,477.7 L426.5,478.5 L427.0,478.9 L427.5,478.8 L428.0,478.3 L428.5,477.4 L429.0,476.1 L429.5,474.3 L430.0,472.1 L430.5,469.5 L431.0,466.6 L431.5,463.2 L432.0,459.4 L432.5,455.2 L433.0,450.7 L433.5,445.9 L434.0,440.7 L434.5,435.2 L435.0,429.4 L435.5,423.4 L436.0,417.0 L436.5,410.5 L437.0,403.7 L437.5,396.7 L438.0,389.5 L438.5,382.2 L439.0,374.8 L439.5,367.2 L440.0,359.6 L440.5,351.9 L441.0,344.1 L441.5,336.4 L442.0,328.7 L442.5,321.0 L443.0,313.3 L443.5,305.7 L444.0,298.3 L444.5,291.0 L445.0,283.8 L445.5,276.8 L446.0,270.0 L446.5,263.4 L447.0,257.1 L447.5,251.0 L448.0,245.2 L448.5,239.7 L449.0,234.5 L449.5,229.6 L450.0,225.1 L450.5,220.9 L451.0,217.1 L451.5,213.7 L452.0,210.6 L452.5,208.0 L453.0,205.8 L453.5,204.0 L454.0,202.7 L454.5,201.7 L455.0,201.2 L455.5,201.1 L456.0,201.5 L456.5,202.3 L457.0,203.5 L457.5,205.1 L458.0,207.2 L458.5,209.7 L459.0,212.5 L459.5,215.8 L460.0,219.5 L460.5,223.5 L461.0,227.9 L461.5,232.7 L462.0,237.8 L462.5,243.2 L463.0,248.9 L463.5,254.8 L464.0,261.1 L464.5,267.6 L465.0,274.3 L465.5,281.3 L466.0,288.4 L466.5,295.6 L467.0,303.0 L467.5,310.6 L468.0,318.2 L468.5,325.9 L469.0,333.6 L469.5,341.4 L470.0,349.1 L470.5,356.8 L471.0,364.5 L471.5,372.1 L472.0,379.6 L472.5,386.9 L473.0,394.1 L473.5,401.2 L474.0,408.1 L474.5,414.7 L475.0,421.1 L475.5,427.3 L476.0,433.2 L476.5,438.8 L477.0,444.1 L477.5,449.0 L478.0,453.7 L478.5,457.9 L479.0,461.8 L479.5,465.4 L480.0,468.5 L480.5,471.3 L481.0,473.6 L481.5,475.5 L482.0,477.0 L482.5,478.1 L483.0,478.7 L483.5,478.9 L484.0,478.7 L484.5,478.0 L485.0,476.9 L485.5,475.4 L486.0,473.5 L486.5,471.1 L487.0,468.3 L487.5,465.2 L488.0,461.6 L488.5,457.7 L489.0,453.4 L489.5,448.7 L490.0,443.8 L490.5,438.4 L491.0,432.8 L491.5,426.9 L492.0,420.7 L492.5,414.3 L493.0,407.6 L493.5,400.8 L494.0,393.7 L494.5,386.5 L495.0,379.1 L495.5,371.6 L496.0,364.0 L496.5,356.4 L497.0,348.6 L497.5,340.9 L498.0,333.1 L498.5,325.4 L499.0,317.7 L499.5,310.1 L500.0,302.6 L500.5,295.2 L501.0,287.9 L501.5,280.8 L502.0,273.9 L502.5,267.2 L503.0,260.7 L503.5,254.5 L504.0,248.5 L504.5,242.8 L505.0,237.4 L505.5,232.4 L506.0,227.6 L506.5,223.3 L507.0,219.2 L507.5,215.6 L508.0,212.4 L508.5,209.5 L509.0,207.1 L509.5,205.0 L510.0,203.4 L510.5,202.2 L511.0,201.5 L511.5,201.1 L512.0,201.2 L512.5,201.8 L513.0,202.7 L513.5,204.1 L514.0,205.9 L514.5,208.2 L515.0,210.8 L515.5,213.9 L516.0,217.3 L516.5,221.1 L517.0,225.3 L517.5,229.9 L518.0,234.8 L518.5,240.0 L519.0,245.5 L519.5,251.3 L520.0,257.4 L520.5,263.8 L521.0,270.4 L521.5,277.2 L522.0,284.2 L522.5,291.4 L523.0,298.7 L523.5,306.2 L524.0,313.8 L524.5,321.4 L525.0,329.1 L525.5,336.9 L526.0,344.6 L526.5,352.3 L527.0,360.0 L527.5,367.7 L528.0,375.2 L528.5,382.7 L529.0,390.0 L529.5,397.1 L530.0,404.1 L530.5,410.9 L531.0,417.4 L531.5,423.7 L532.0,429.8 L532.5,435.6 L533.0,441.0 L533.5,446.2 L534.0,451.0 L534.5,455.5 L535.0,459.6 L535.5,463.4 L536.0,466.7 L536.5,469.7 L537.0,472.3 L537.5,474.4 L538.0,476.2 L538.5,477.5 L539.0,478.4 L539.5,478.8 L540.0,478.8 L540.5,478.4 L541.0,477.6 L541.5,476.3 L542.0,474.6 L542.5,472.5 L543.0,470.0 L543.5,467.1 L544.0,463.7 L544.5,460.0 L545.0,455.9 L545.5,451.5 L546.0,446.7 L546.5,441.6 L547.0,436.1 L547.5,430.4 L548.0,424.4 L548.5,418.1 L549.0,411.5 L549.5,404.8 L550.0,397.8 L550.5,390.7 L551.0,383.4 L551.5,376.0 L552.0,368.4 L552.5,360.8 L553.0,353.1 L553.5,345.4 L554.0,337.6 L554.5,329.9 L555.0,322.2 L555.5,314.5 L556.0,306.9 L556.5,299.5 L557.0,292.1 L557.5,284.9 L558.0,277.9 L558.5,271.1 L559.0,264.5 L559.5,258.1 L560.0,251.9 L560.5,246.1 L561.0,240.5 L561.5,235.3 L562.0,230.3 L562.5,225.8 L563.0,221.5 L563.5,217.7 L564.0,214.2 L564.5,211.1 L565.0,208.4 L565.5,206.1 L566.0,204.3 L566.5,202.8 L567.0,201.8 L567.5,201.3 L568.0,201.1 L568.5,201.4 L569.0,202.1 L569.5,203.3 L570.0,204.8 L570.5,206.8 L571.0,209.2 L571.5,212.1 L572.0,215.3 L572.5,218.9 L573.0,222.8 L573.5,227.2 L574.0,231.9 L574.5,236.9 L575.0,242.3 L575.5,247.9 L576.0,253.9 L576.5,260.1 L577.0,266.5 L577.5,273.2 L578.0,280.1 L578.5,287.2 L579.0,294.5 L579.5,301.9 L580.0,309.4 L580.5,317.0 L581.0,324.6 L581.5,332.4 L582.0,340.1 L582.5,347.9 L583.0,355.6 L583.5,363.3 L584.0,370.9 L584.5,378.4 L585.0,385.8 L585.5,393.0 L586.0,400.1 L586.5,407.0 L587.0,413.7 L587.5,420.1 L588.0,426.3 L588.5,432.2 L589.0,437.9 L589.5,443.2 L590.0,448.3 L590.5,452.9 L591.0,457.3 L591.5,461.2 L592.0,464.8 L592.5,468.0 L593.0,470.8 L593.5,473.2 L594.0,475.2 L594.5,476.8 L595.0,477.9 L595.5,478.6 L596.0,478.9 L596.5,478.7 L597.0,478.1 L597.5,477.1 L598.0,475.7 L598.5,473.8 L599.0,471.5 L599.5,468.8 L600.0,465.7 L600.5,462.2 L601.0,458.3 L601.5,454.1 L602.0,449.5 L602.5,444.6 L603.0,439.3 L603.5,433.7 L604.0,427.9 L604.5,421.7 L605.0,415.4 L605.5,408.7 L606.0,401.9 L606.5,394.9 L607.0,387.7 L607.5,380.3 L608.0,372.8 L608.5,365.2 L609.0,357.6 L609.5,349.9 L610.0,342.1 L610.5,334.4 L611.0,326.6 L611.5,319.0 L612.0,311.3 L612.5,303.8 L613.0,296.4 L613.5,289.1 L614.0,282.0 L614.5,275.0 L615.0,268.3 L615.5,261.7 L616.0,255.5 L616.5,249.4 L617.0,243.7 L617.5,238.3 L618.0,233.2 L618.5,228.4 L619.0,223.9 L619.5,219.9 L620.0,216.2 L620.5,212.8 L621.0,209.9 L621.5,207.4 L622.0,205.3 L622.5,203.6 L623.0,202.4 L623.5,201.5 L624.0,201.1 L624.5,201.2 L625.0,201.6 L625.5,202.5 L626.0,203.9 L626.5,205.6 L627.0,207.8 L627.5,210.4 L628.0,213.4 L628.5,216.7 L629.0,220.5 L629.5,224.6 L630.0,229.1 L630.5,234.0 L631.0,239.1 L631.5,244.6 L632.0,250.4 L632.5,256.4 L633.0,262.8 L633.5,269.3 L634.0,276.1 L634.5,283.1 L635.0,290.2 L635.5,297.6 L636.0,305.0 L636.5,312.5 L637.0,320.2 L637.5,327.9 L638.0,335.6 L638.5,343.4 L639.0,351.1 L639.5,358.8 L640.0,366.5 L640.5,374.0 L641.0,381.5 L641.5,388.8 L642.0,396.0 L642.5,403.0 L643.0,409.8 L643.5,416.4 L644.0,422.7 L644.5,428.8 L645.0,434.7 L645.5,440.2 L646.0,445.4 L646.5,450.3 L647.0,454.8 L647.5,459.0 L648.0,462.8 L648.5,466.2 L649.0,469.3 L649.5,471.9 L650.0,474.1 L650.5,475.9 L651.0,477.3 L651.5,478.3 L652.0,478.8 L652.5,478.9 L653.0,478.5 L653.5,477.8 L654.0,476.6 L654.5,474.9 L655.0,472.9 L655.5,470.4 L656.0,467.6 L656.5,464.3 L657.0,460.6 L657.5,456.6 L658.0,452.2 L658.5,447.5 L659.0,442.4 L659.5,437.0 L660.0,431.3 L660.5,425.3 L661.0,419.1 L661.5,412.6 L662.0,405.9 L662.5,399.0 L663.0,391.9 L663.5,384.6 L664.0,377.2 L664.5,369.7 L665.0,362.0 L665.5,354.4 L666.0,346.6 L666.5,338.9 L667.0,331.1 L667.5,323.4 L668.0,315.7 L668.5,308.2 L669.0,300.7 L669.5,293.3 L670.0,286.1 L670.5,279.0 L671.0,272.1 L671.5,265.5 L672.0,259.1 L672.5,252.9 L673.0,247.0 L673.5,241.4 L674.0,236.1 L674.5,231.1 L675.0,226.5 L675.5,222.2 L676.0,218.3 L676.5,214.7 L677.0,211.6 L677.5,208.8 L678.0,206.5 L678.5,204.6 L679.0,203.1 L679.5,202.0 L680.0,201.3 L680.5,201.1 L681.0,201.3 L681.5,202.0 L682.0,203.1 L682.5,204.6 L683.0,206.5 L683.5,208.8 L684.0,211.6 L684.5,214.7 L685.0,218.3 L685.5,222.2 L686.0,226.5 L686.5,231.1 L687.0,236.1 L687.5,241.4 L688.0,247.0 L688.5,252.9 L689.0,259.1 L689.5,265.5 L690.0,272.1 L690.5,279.0 L691.0,286.1 L691.5,293.3 L692.0,300.7 L692.5,308.2 L693.0,315.7 L693.5,323.4 L694.0,331.1 L694.5,338.9 L695.0,346.6 L695.5,354.4 L696.0,362.0 L696.5,369.7 L697.0,377.2 L697.5,384.6 L698.0,391.9 L698.5,399.0 L699.0,405.9 L699.5,412.6 L700.0,419.1 L700.5,425.3 L701.0,431.3 L701.5,437.0 L702.0,442.4 L702.5,447.5 L703.0,452.2 L703.5,456.6 L704.0,460.6 L704.5,464.3 L705.0,467.6 L705.5,470.4 L706.0,472.9 L706.5,474.9 L707.0,476.6 L707.5,477.8 L708.0,478.5 L708.5,478.9 L709.0,478.8 L709.5,478.3 L710.0,477.3 L710.5,475.9 L711.0,474.1 L711.5,471.9 L712.0,469.3 L712.5,466.2 L713.0,462.8 L713.5,459.0 L714.0,454.8 L714.5,450.3 L715.0,445.4 L715.5,440.2 L716.0,434.7 L716.5,428.8 L717.0,422.7 L717.5,416.4 L718.0,409.8 L718.5,403.0 L719.0,396.0 L719.5,388.8 L720.0,381.5 L720.5,374.0 L721.0,366.5 L721.5,358.8 L722.0,351.1 L722.5,343.4 L723.0,335.6 L723.5,327.9 L724.0,320.2 L724.5,312.5 L725.0,305.0 L725.5,297.6 L726.0,290.2 L726.5,283.1 L727.0,276.1 L727.5,269.3 L728.0,262.8 L728.5,256.4 L729.0,250.4 L729.5,244.6 L730.0,239.1 L730.5,234.0 L731.0,229.1 L731.5,224.6 L732.0,220.5 L732.5,216.7 L733.0,213.4 L733.5,210.4 L734.0,207.8 L734.5,205.6 L735.0,203.9 L735.5,202.5 L736.0,201.6 L736.5,201.2 L737.0,201.1 L737.5,201.5 L738.0,202.4 L738.5,203.6 L739.0,205.3 L739.5,207.4 L740.0,209.9 L740.5,212.8 L741.0,216.2 L741.5,219.9 L742.0,223.9 L742.5,228.4 L743.0,233.2 L743.5,238.3 L744.0,243.7 L744.5,249.4 L745.0,255.5 L745.5,261.7 L746.0,268.3 L746.5,275.0 L747.0,282.0 L747.5,289.1 L748.0,296.4 L748.5,303.8 L749.0,311.3 L749.5,319.0 L750.0,326.6 L750.5,334.4 L751.0,342.1 L751.5,349.9 L752.0,357.6 L752.5,365.2 L753.0,372.8 L753.5,380.3 L754.0,387.7 L754.5,394.9 L755.0,401.9 L755.5,408.7 L756.0,415.4 L756.5,421.7 L757.0,427.9 L757.5,433.7 L758.0,439.3 L758.5,444.6 L759.0,449.5 L759.5,454.1 L760.0,458.3 L760.5,462.2 L761.0,465.7 L761.5,468.8 L762.0,471.5 L762.5,473.8 L763.0,475.7 L763.5,477.1 L764.0,478.1 L764.5,478.7 L765.0,478.9 L765.5,478.6 L766.0,477.9 L766.5,476.8 L767.0,475.2 L767.5,473.2 L768.0,470.8 L768.5,468.0 L769.0,464.8 L769.5,461.2 L770.0,457.3 L770.5,452.9 L771.0,448.3 L771.5,443.2 L772.0,437.9 L772.5,432.2 L773.0,426.3 L773.5,420.1 L774.0,413.7 L774.5,407.0 L775.0,400.1 L775.5,393.0 L776.0,385.8 L776.5,378.4 L777.0,370.9 L777.5,363.3 L778.0,355.6 L778.5,347.9 L779.0,340.1 L779.5,332.4 L780.0,324.6 L780.5,317.0 L781.0,309.4 L781.5,301.9 L782.0,294.5 L782.5,287.2 L783.0,280.1 L783.5,273.2 L784.0,266.5 L784.5,260.1 L785.0,253.9 L785.5,247.9 L786.0,242.3 L786.5,236.9 L787.0,231.9 L787.5,227.2 L788.0,222.8 L788.5,218.9 L789.0,215.3 L789.5,212.1 L790.0,209.2 L790.5,206.8 L791.0,204.8 L791.5,203.3 L792.0,202.1 L792.5,201.4 L793.0,201.1 L793.5,201.3 L794.0,201.8 L794.5,202.8 L795.0,204.3 L795.5,206.1 L796.0,208.4 L796.5,211.1 L797.0,214.2 L797.5,217.7 L798.0,221.5 L798.5,225.8 L799.0,230.3 L799.5,235.3 L800.0,240.5 L800.5,246.1 L801.0,251.9 L801.5,258.1 L802.0,264.5 L802.5,271.1 L803.0,277.9 L803.5,284.9 L804.0,292.1 L804.5,299.5 L805.0,306.9 L805.5,314.5 L806.0,322.2 L806.5,329.9 L807.0,337.6 L807.5,345.4 L808.0,353.1 L808.5,360.8 L809.0,368.4 L809.5,376.0 L810.0,383.4 L810.5,390.7 L811.0,397.8 L811.5,404.8 L812.0,411.5 L812.5,418.1 L813.0,424.4 L813.5,430.4 L814.0,436.1 L814.5,441.6 L815.0,446.7 L815.5,451.5 L816.0,455.9 L816.5,460.0 L817.0,463.7 L817.5,467.1 L818.0,470.0 L818.5,472.5 L819.0,474.6 L819.5,476.3 L820.0,477.6 L820.5,478.4 L821.0,478.8 L821.5,478.8 L822.0,478.4 L822.5,477.5 L823.0,476.2 L823.5,474.4 L824.0,472.3 L824.5,469.7 L825.0,466.7 L825.5,463.4 L826.0,459.6 L826.5,455.5 L827.0,451.0 L827.5,446.2 L828.0,441.0 L828.5,435.6 L829.0,429.8 L829.5,423.7 L830.0,417.4 L830.5,410.9 L831.0,404.1 L831.5,397.1 L832.0,390.0 L832.5,382.7 L833.0,375.2 L833.5,367.7 L834.0,360.0 L834.5,352.3 L835.0,344.6 L835.5,336.9 L836.0,329.1 L836.5,321.4 L837.0,313.8 L837.5,306.2 L838.0,298.7 L838.5,291.4 L839.0,284.2 L839.5,277.2 L840.0,270.4 L840.5,263.8 L841.0,257.4 L841.5,251.3 L842.0,245.5 L842.5,240.0 L843.0,234.8 L843.5,229.9 L844.0,225.3 L844.5,221.1 L845.0,217.3 L845.5,213.9 L846.0,210.8 L846.5,208.2 L847.0,205.9 L847.5,204.1 L848.0,202.7 L848.5,201.8 L849.0,201.2 L849.5,201.1 L850.0,201.5 L850.5,202.2 L851.0,203.4 L851.5,205.0 L852.0,207.1 L852.5,209.5 L853.0,212.4 L853.5,215.6 L854.0,219.2 L854.5,223.3 L855.0,227.6 L855.5,232.4 L856.0,237.4 L856.5,242.8 L857.0,248.5 L857.5,254.5 L858.0,260.7 L858.5,267.2 L859.0,273.9 L859.5,280.8 L860.0,287.9 L860.5,295.2 L861.0,302.6 L861.5,310.1 L862.0,317.7 L862.5,325.4 L863.0,333.1 L863.5,340.9 L864.0,348.6 L864.5,356.4 L865.0,364.0 L865.5,371.6 L866.0,379.1 L866.5,386.5 L867.0,393.7 L867.5,400.8 L868.0,407.6 L868.5,414.3 L869.0,420.7 L869.5,426.9 L870.0,432.8 L870.5,438.4 L871.0,443.8 L871.5,448.7 L872.0,453.4 L872.5,457.7 L873.0,461.6 L873.5,465.2 L874.0,468.3 L874.5,471.1 L875.0,473.5 L875.5,475.4 L876.0,476.9 L876.5,478.0 L877.0,478.7 L877.5,478.9 L878.0,478.7 L878.5,478.1 L879.0,477.0 L879.5,475.5 L880.0,473.6 L880.5,471.3 L881.0,468.5 L881.5,465.4 L882.0,461.8 L882.5,457.9 L883.0,453.7 L883.5,449.0 L884.0,444.1 L884.5,438.8 L885.0,433.2 L885.5,427.3 L886.0,421.1 L886.5,414.7 L887.0,408.1 L887.5,401.2 L888.0,394.1 L888.5,386.9 L889.0,379.6 L889.5,372.1 L890.0,364.5 L890.5,356.8 L891.0,349.1 L891.5,341.4 L892.0,333.6 L892.5,325.9 L893.0,318.2 L893.5,310.6 L894.0,303.0 L894.5,295.6 L895.0,288.4 L895.5,281.3 L896.0,274.3 L896.5,267.6 L897.0,261.1 L897.5,254.8 L898.0,248.9 L898.5,243.2 L899.0,237.8 L899.5,232.7 L900.0,227.9 L900.5,223.5 L901.0,219.5 L901.5,215.8 L902.0,212.5 L902.5,209.7 L903.0,207.2 L903.5,205.1 L904.0,203.5 L904.5,202.3 L905.0,201.5 L905.5,201.1 L906.0,201.2 L906.5,201.7 L907.0,202.7 L907.5,204.0 L908.0,205.8 L908.5,208.0 L909.0,210.6 L909.5,213.7 L910.0,217.1 L910.5,220.9 L911.0,225.1 L911.5,229.6 L912.0,234.5 L912.5,239.7 L913.0,245.2 L913.5,251.0 L914.0,257.1 L914.5,263.4 L915.0,270.0 L915.5,276.8 L916.0,283.8 L916.5,291.0 L917.0,298.3 L917.5,305.7 L918.0,313.3 L918.5,321.0 L919.0,328.7 L919.5,336.4 L920.0,344.1 L920.5,351.9 L921.0,359.6 L921.5,367.2 L922.0,374.8 L922.5,382.2 L923.0,389.5 L923.5,396.7 L924.0,403.7 L924.5,410.5 L925.0,417.0 L925.5,423.4 L926.0,429.4 L926.5,435.2 L927.0,440.7 L927.5,445.9 L928.0,450.7 L928.5,455.2 L929.0,459.4 L929.5,463.2 L930.0,466.6 L930.5,469.5 L931.0,472.1 L931.5,474.3 L932.0,476.1 L932.5,477.4 L933.0,478.3 L933.5,478.8 L934.0,478.9 L934.5,478.5 L935.0,477.7 L935.5,476.4 L936.0,474.7 L936.5,472.7 L937.0,470.2 L937.5,467.2 L938.0,463.9 L938.5,460.3 L939.0,456.2 L939.5,451.8 L940.0,447.0 L940.5,441.9 L941.0,436.5 L941.5,430.7 L942.0,424.7 L942.5,418.5 L943.0,411.9 L943.5,405.2 L944.0,398.3 L944.5,391.1 L945.0,383.8 L945.5,376.4 L946.0,368.9 L946.5,361.3 L947.0,353.6 L947.5,345.9 L948.0,338.1 L948.5,330.4 L949.0,322.6 L949.5,315.0 L950.0,307.4 L950.5,299.9 L951.0,292.6 L951.5,285.4 L952.0,278.3 L952.5,271.5 L953.0,264.8 L953.5,258.4 L954.0,252.3 L954.5,246.4 L955.0,240.8 L955.5,235.6 L956.0,230.6 L956.5,226.0 L957.0,221.8 L957.5,217.9 L958.0,214.4 L958.5,211.3 L959.0,208.6 L959.5,206.3 L960.0,204.4 L960.5,202.9 L961.0,201.9 L961.5,201.3 L962.0,201.1 L962.5,201.4 L963.0,202.1 L963.5,203.2 L964.0,204.7 L964.5,206.7 L965.0,209.1 L965.5,211.9 L966.0,215.1 L966.5,218.6 L967.0,222.6 L967.5,226.9 L968.0,231.6" stroke="#0606e0" stroke-width="2.0" stroke-dasharray="9.4 5.7"/>
</g>
<g clip-path="url(#cr)" fill="none" stroke-linejoin="round">
<line x1="1091.1" y1="106.5" x2="1091.1" y2="476" stroke="#aeacde" stroke-width="1.7"/>
<path d="M1091.5,476.0 L1091.5,473.3 L1091.6,470.1 L1091.6,466.3 L1091.7,461.9 L1091.8,456.8 L1091.8,451.2" stroke="#e3151d" stroke-width="1.0"/>
<path d="M1091.8,451.2 L1091.9,444.9 L1092.0,438.0 L1092.1,430.0 L1092.2,420.9 L1092.3,410.9 L1092.3,400.4 L1092.4,389.7 L1092.5,379.2 L1092.6,369.2 L1092.7,360.0 L1092.8,351.9 L1092.8,344.7 L1092.9,337.9 L1093.0,331.4 L1093.1,324.6 L1093.1,317.4 L1093.2,309.3 L1093.3,300.0 L1093.4,289.1 L1093.5,276.9 L1093.6,263.7 L1093.8,250.0 L1093.9,236.3 L1094.0,223.1 L1094.2,210.9 L1094.3,200.0 L1094.5,190.3 L1094.6,181.2 L1094.8,172.8 L1094.9,165.0 L1095.1,157.8 L1095.3,151.2 L1095.4,145.3 L1095.6,140.0 L1095.7,135.5 L1095.9,131.9 L1096.0,129.1 L1096.1,126.8 L1096.2,124.9 L1096.3,123.3 L1096.5,121.7 L1096.6,120.0 L1096.7,118.4 L1096.9,116.9 L1097.0,115.7 L1097.1,114.7 L1097.2,113.8 L1097.4,113.0 L1097.6,112.2 L1097.8,111.5 L1098.1,110.8 L1098.4,110.3 L1098.7,109.8 L1099.0,109.4 L1099.4,109.1 L1099.8,108.8 L1100.1,108.5 L1100.5,108.3 L1100.9,108.1 L1101.2,108.0 L1101.6,107.9 L1101.9,107.9 L1102.3,107.9 L1102.7,107.9 L1103.0,108.0 L1103.4,108.0 L1103.8,108.0 L1104.2,108.1 L1104.6,108.2 L1104.9,108.3 L1105.3,108.4 L1105.7,108.5 L1106.1,108.6 L1106.5,108.8 L1106.9,109.0 L1107.3,109.2 L1107.7,109.5 L1108.1,109.7 L1108.4,110.0 L1108.8,110.3 L1109.2,110.5 L1109.5,110.8 L1109.8,111.1 L1110.1,111.3 L1110.4,111.6 L1110.7,111.8 L1111.0,112.1 L1111.3,112.3 L1111.5,112.5 L1111.8,112.7 L1112.0,112.8 L1112.3,113.0 L1112.5,113.1 L1112.7,113.2 L1112.9,113.2 L1113.2,113.3 L1113.4,113.3 L1113.6,113.3 L1113.8,113.3 L1114.0,113.3 L1114.3,113.2 L1114.5,113.2 L1114.7,113.1 L1114.9,113.0 L1115.2,112.9 L1115.4,112.7 L1115.6,112.5 L1115.9,112.3 L1116.1,112.0 L1116.4,111.7 L1116.6,111.4 L1116.9,111.0 L1117.2,110.7 L1117.5,110.3 L1117.9,109.9 L1118.3,109.4 L1118.7,108.9 L1119.1,108.4 L1119.6,107.8 L1120.0,107.3 L1120.4,106.9 L1120.8,106.5 L1121.1,106.2 L1121.4,105.9 L1121.7,105.6 L1122.0,105.4 L1122.2,105.2 L1122.5,105.0 L1122.7,104.8 L1123.0,104.6 L1123.3,104.4 L1123.5,104.3 L1123.7,104.2 L1124.0,104.1 L1124.2,104.0 L1124.4,103.9 L1124.7,103.8 L1125.0,103.7 L1125.3,103.6 L1125.6,103.6 L1125.9,103.5 L1126.2,103.4 L1126.5,103.4 L1126.9,103.4 L1127.4,103.3 L1128.0,103.3 L1128.7,103.3 L1129.4,103.3 L1130.2,103.3 L1131.1,103.3 L1132.0,103.3 L1133.0,103.3 L1134.0,103.4 L1135.0,103.4 L1136.1,103.4 L1137.3,103.5 L1138.6,103.5 L1139.9,103.6 L1141.2,103.6 L1142.4,103.7 L1143.6,103.7 L1144.6,103.8 L1145.5,103.9 L1146.3,104.0 L1147.1,104.0 L1147.8,104.1 L1148.4,104.2 L1149.1,104.4 L1149.8,104.5 L1150.5,104.6 L1151.2,104.7 L1152.0,104.9 L1152.7,105.0 L1153.4,105.2 L1154.1,105.3 L1154.9,105.5 L1155.7,105.7 L1156.5,105.9 L1157.4,106.1 L1158.3,106.4 L1159.2,106.6 L1160.1,106.9 L1161.1,107.2 L1162.1,107.4 L1163.0,107.7 L1164.0,107.9 L1165.0,108.1 L1166.2,108.3 L1167.3,108.5 L1168.5,108.7 L1169.6,108.8 L1170.6,109.0 L1171.4,109.1 L1172.0,109.2 L1173.0,109.2 L1174.0,109.1 L1175.0,109.1 L1176.0,109.0 L1177.1,108.8 L1178.1,108.7 L1179.1,108.5 L1180.1,108.3 L1181.1,108.1 L1182.1,107.9 L1183.1,107.6 L1184.1,107.4 L1185.2,107.1 L1186.2,106.8 L1187.2,106.5 L1188.2,106.2 L1189.2,105.9 L1190.2,105.6 L1191.2,105.3 L1192.2,105.0 L1193.3,104.7 L1194.3,104.5 L1195.3,104.2 L1196.3,104.0 L1197.3,103.8 L1198.3,103.6 L1199.3,103.4 L1200.3,103.3 L1201.4,103.1 L1202.4,103.0 L1203.4,103.0 L1204.4,102.9 L1205.4,102.9 L1206.4,102.9 L1207.5,103.0 L1208.5,103.2 L1209.5,103.4 L1210.6,103.6 L1211.6,103.9 L1212.6,104.2 L1213.7,104.6 L1214.7,104.9 L1215.7,105.3 L1216.8,105.8 L1217.8,106.2 L1218.8,106.6 L1219.8,106.9 L1220.9,107.3 L1221.9,107.6 L1222.9,107.9 L1224.0,108.1 L1225.0,108.3 L1226.0,108.5 L1227.1,108.6 L1228.1,108.6 L1229.1,108.6 L1230.1,108.5 L1231.1,108.5 L1232.1,108.4 L1233.1,108.2 L1234.1,108.1 L1235.1,107.9 L1236.1,107.7 L1237.2,107.5 L1238.2,107.2 L1239.2,107.0 L1240.2,106.7 L1241.2,106.4 L1242.2,106.1 L1243.2,105.8 L1244.2,105.5 L1245.2,105.3 L1246.2,105.0 L1247.2,104.7 L1248.2,104.4 L1249.2,104.1 L1250.2,103.9 L1251.2,103.6 L1252.2,103.4 L1253.3,103.2 L1254.3,103.0 L1255.3,102.9 L1256.3,102.7 L1257.3,102.6 L1258.3,102.6 L1259.3,102.5 L1260.3,102.5 L1261.3,102.5 L1262.3,102.6 L1263.3,102.7 L1264.3,102.9 L1265.3,103.1 L1266.3,103.3 L1267.3,103.6 L1268.3,103.9 L1269.3,104.2 L1270.3,104.6 L1271.3,104.9 L1272.3,105.3 L1273.3,105.7 L1274.3,106.1 L1275.3,106.4 L1276.3,106.8 L1277.3,107.1 L1278.3,107.4 L1279.3,107.7 L1280.3,107.9 L1281.3,108.1 L1282.3,108.3 L1283.3,108.4 L1284.3,108.5 L1285.3,108.5 L1286.3,108.5 L1287.4,108.4 L1288.4,108.3 L1289.4,108.2 L1290.4,108.1 L1291.5,107.9 L1292.5,107.7 L1293.5,107.5 L1294.5,107.2 L1295.6,106.9 L1296.6,106.6 L1297.6,106.3 L1298.7,106.0 L1299.7,105.7 L1300.7,105.4 L1301.7,105.1 L1302.8,104.8 L1303.8,104.5 L1304.8,104.2 L1305.9,103.9 L1306.9,103.6 L1307.9,103.4 L1308.9,103.2 L1310.0,103.0 L1311.0,102.9 L1312.0,102.8 L1313.0,102.7 L1314.1,102.6 L1315.1,102.6 L1316.1,102.6 L1317.1,102.7 L1318.2,102.8 L1319.2,102.9 L1320.2,103.1 L1321.2,103.3 L1322.2,103.5 L1323.2,103.7 L1324.3,104.0 L1325.3,104.3 L1326.3,104.6 L1327.3,104.9 L1328.3,105.3 L1329.3,105.6 L1330.4,105.9 L1331.4,106.3 L1332.4,106.6 L1333.4,106.9 L1334.4,107.2 L1335.5,107.5 L1336.5,107.7 L1337.5,107.9 L1338.5,108.1 L1339.5,108.3 L1340.5,108.4 L1341.6,108.5 L1342.6,108.6 L1343.6,108.6 L1344.6,108.6 L1345.6,108.5 L1346.6,108.4 L1347.6,108.3 L1348.6,108.1 L1349.6,107.9 L1350.6,107.7 L1351.6,107.4 L1352.6,107.1 L1353.6,106.8 L1354.6,106.5 L1355.6,106.2 L1356.6,105.8 L1357.7,105.5 L1358.7,105.1 L1359.7,104.8 L1360.7,104.5 L1361.7,104.2 L1362.7,103.9 L1363.7,103.6 L1364.7,103.4 L1365.7,103.2 L1366.7,103.0 L1367.7,102.9 L1368.7,102.8 L1369.7,102.7 L1370.7,102.7 L1371.7,102.7 L1372.7,102.8 L1373.7,102.8 L1374.7,102.9 L1375.7,103.0 L1376.7,103.2 L1377.7,103.4 L1378.7,103.6 L1379.7,103.8 L1380.7,104.0 L1381.7,104.3 L1382.7,104.5 L1383.7,104.8 L1384.7,105.1 L1385.7,105.4 L1386.8,105.6 L1387.8,105.9 L1388.8,106.2 L1389.8,106.5 L1390.8,106.8 L1391.8,107.0 L1392.8,107.3 L1393.8,107.5 L1394.8,107.7 L1395.8,107.9 L1396.8,108.1 L1397.8,108.3 L1398.8,108.4 L1399.8,108.5 L1400.8,108.5 L1401.8,108.6 L1402.8,108.6 L1403.8,108.6 L1404.8,108.5 L1405.8,108.4 L1406.8,108.2 L1407.9,108.0 L1408.9,107.8 L1409.9,107.5 L1410.9,107.2 L1411.9,106.9 L1412.9,106.6 L1413.9,106.2 L1414.9,105.8 L1416.0,105.5 L1417.0,105.1 L1418.0,104.7 L1419.0,104.4 L1420.0,104.1 L1421.0,103.8 L1422.0,103.5 L1423.0,103.3 L1424.1,103.1 L1425.1,102.9 L1426.1,102.8 L1427.1,102.7 L1428.1,102.7 L1429.1,102.7 L1430.1,102.8 L1431.1,102.8 L1432.1,102.9 L1433.1,103.1 L1434.2,103.2 L1435.2,103.4 L1436.2,103.6 L1437.2,103.8 L1438.2,104.1 L1439.2,104.4 L1440.2,104.6 L1441.2,104.9 L1442.2,105.2 L1443.2,105.5 L1444.3,105.8 L1445.3,106.1 L1446.3,106.4 L1447.3,106.7 L1448.3,106.9 L1449.3,107.2 L1450.3,107.5 L1451.3,107.7 L1452.3,107.9 L1453.3,108.1 L1454.4,108.2 L1455.4,108.4 L1456.4,108.5 L1457.4,108.5 L1458.4,108.6 L1459.4,108.6 L1460.4,108.6 L1461.4,108.5 L1462.4,108.4 L1463.4,108.3 L1464.4,108.1 L1465.4,107.9 L1466.4,107.6 L1467.4,107.3 L1468.4,107.0 L1469.4,106.7 L1470.4,106.4 L1471.4,106.0 L1472.5,105.7 L1473.5,105.3 L1474.5,104.9 L1475.5,104.6 L1476.5,104.3 L1477.5,104.0 L1478.5,103.7 L1479.5,103.4 L1480.5,103.2 L1481.5,103.0 L1482.5,102.9 L1483.5,102.8 L1484.5,102.7 L1485.5,102.7 L1486.5,102.7 L1487.6,102.8 L1488.6,102.9 L1489.6,103.0 L1490.6,103.2 L1491.7,103.3 L1492.7,103.6 L1493.7,103.8 L1494.8,104.1 L1495.8,104.4 L1496.8,104.7 L1497.8,105.0 L1498.9,105.3 L1499.9,105.6 L1500.9,106.0 L1502.0,106.3 L1503.0,106.6 L1504.0,106.9 L1505.0,107.2 L1506.1,107.5 L1507.1,107.7 L1508.1,108.0 L1509.2,108.1 L1510.2,108.3 L1511.2,108.4 L1512.2,108.5 L1513.3,108.6 L1514.3,108.6 L1515.3,108.6 L1516.4,108.5 L1517.4,108.4 L1518.4,108.3 L1519.4,108.1 L1520.5,107.9 L1521.5,107.7 L1522.5,107.4 L1523.6,107.1 L1524.6,106.8 L1525.6,106.5 L1526.7,106.2 L1527.7,105.8 L1528.7,105.5 L1529.7,105.1 L1530.8,104.8 L1531.8,104.5 L1532.8,104.2 L1533.9,103.9 L1534.9,103.6 L1535.9,103.4 L1537.0,103.2 L1538.0,103.0 L1539.0,102.9 L1540.0,102.8 L1541.1,102.7 L1542.1,102.7 L1543.1,102.7 L1544.1,102.8 L1545.2,102.9 L1546.2,103.0 L1547.2,103.1 L1548.2,103.3 L1549.2,103.5 L1550.3,103.7 L1551.3,104.0 L1552.3,104.3 L1553.3,104.6 L1554.3,104.9 L1555.4,105.2 L1556.4,105.5 L1557.4,105.8 L1558.4,106.1 L1559.5,106.4 L1560.5,106.7 L1561.5,107.0 L1562.5,107.3 L1563.5,107.6 L1564.6,107.8 L1565.6,108.0 L1566.6,108.2 L1567.6,108.3 L1568.6,108.4 L1569.7,108.5 L1570.7,108.6 L1571.7,108.6 L1572.7,108.6 L1573.7,108.5 L1574.7,108.4 L1575.7,108.3 L1576.7,108.1 L1577.7,107.9 L1578.7,107.7 L1579.7,107.4 L1580.7,107.1 L1581.7,106.8 L1582.7,106.5 L1583.7,106.2 L1584.7,105.9 L1585.7,105.5 L1586.7,105.2 L1587.7,104.9 L1588.7,104.6 L1589.7,104.2 L1590.7,104.0 L1591.7,103.7 L1592.7,103.5 L1593.7,103.3 L1594.7,103.1 L1595.7,103.0 L1596.7,102.9 L1597.7,102.8 L1598.7,102.8 L1599.7,102.8 L1600.7,102.9 L1601.7,102.9 L1602.8,103.1 L1603.8,103.2 L1604.8,103.4 L1605.8,103.5 L1606.8,103.8 L1607.8,104.0 L1608.8,104.2 L1609.8,104.5 L1610.9,104.8 L1611.9,105.1 L1612.9,105.4 L1613.9,105.7 L1614.9,106.0 L1615.9,106.3 L1616.9,106.6 L1618.0,106.9 L1619.0,107.1 L1620.0,107.4 L1621.0,107.6 L1622.0,107.9 L1623.0,108.0 L1624.0,108.2 L1625.0,108.3 L1626.1,108.5 L1627.1,108.5 L1628.1,108.6 L1629.1,108.6 L1630.1,108.6 L1631.1,108.5 L1632.1,108.4 L1633.1,108.3 L1634.1,108.1 L1635.1,107.9 L1636.1,107.6 L1637.1,107.4 L1638.1,107.1 L1639.1,106.8 L1640.1,106.4 L1641.1,106.1 L1642.2,105.8 L1643.2,105.4 L1644.2,105.1 L1645.2,104.7 L1646.2,104.4 L1647.2,104.1 L1648.2,103.9 L1649.2,103.6 L1650.2,103.4 L1651.2,103.2 L1652.2,103.1 L1653.2,103.0 L1654.2,102.9 L1655.2,102.9 L1656.2,102.9 L1657.2,103.0 L1658.3,103.0 L1659.3,103.2 L1660.3,103.3 L1661.3,103.5 L1662.3,103.7 L1663.4,103.9 L1664.4,104.1 L1665.4,104.4 L1666.4,104.7 L1667.4,105.0 L1668.5,105.2 L1669.5,105.5 L1670.5,105.9 L1671.5,106.2 L1672.6,106.4 L1673.6,106.7 L1674.6,107.0 L1675.6,107.3 L1676.6,107.5 L1677.7,107.7 L1678.7,107.9 L1679.7,108.1 L1680.7,108.2 L1681.7,108.4 L1682.8,108.4 L1683.8,108.5 L1684.8,108.5 L1685.8,108.5 L1686.9,108.4 L1687.9,108.3 L1688.9,108.2 L1689.9,108.0 L1691.0,107.8 L1692.0,107.6 L1693.0,107.4 L1694.1,107.1 L1695.1,106.8 L1696.1,106.5 L1697.2,106.2 L1698.2,105.9 L1699.2,105.5 L1700.2,105.2 L1701.3,104.9 L1702.3,104.6 L1703.3,104.3 L1704.4,104.0 L1705.4,103.8 L1706.4,103.6 L1707.5,103.4 L1708.5,103.2 L1709.5,103.1 L1710.5,103.0 L1711.6,102.9 L1712.6,102.9 L1713.6,102.9 L1714.7,103.0 L1715.7,103.1 L1716.7,103.2 L1717.7,103.4 L1718.8,103.6 L1719.8,103.8 L1720.8,104.0 L1721.9,104.3 L1722.9,104.6 L1723.9,104.9 L1725.0,105.2 L1726.0,105.5 L1727.0,105.9 L1728.0,106.2 L1729.1,106.5 L1730.1,106.8 L1731.1,107.1 L1732.2,107.4 L1733.2,107.6 L1734.2,107.8 L1735.3,108.0 L1736.3,108.2 L1737.3,108.3 L1738.3,108.4 L1739.4,108.5 L1740.4,108.5 L1741.4,108.5 L1742.5,108.4 L1743.5,108.3 L1744.5,108.2 L1745.5,108.1 L1746.5,107.9 L1747.6,107.7 L1748.6,107.4 L1749.6,107.2 L1750.7,106.9 L1751.7,106.6 L1752.7,106.3 L1753.7,106.0 L1754.8,105.7 L1755.8,105.4 L1756.8,105.1 L1757.8,104.8 L1758.8,104.5 L1759.9,104.2 L1760.9,104.0 L1761.9,103.7 L1763.0,103.5 L1764.0,103.3 L1765.0,103.2 L1766.0,103.1 L1767.0,103.0 L1768.1,102.9 L1769.1,102.9 L1770.1,102.9 L1771.1,103.0 L1772.2,103.1 L1773.2,103.2 L1774.2,103.3 L1775.2,103.5 L1776.3,103.7 L1777.3,104.0 L1778.3,104.2 L1779.3,104.5 L1780.4,104.8 L1781.4,105.1 L1782.4,105.4 L1783.4,105.7 L1784.5,106.0 L1785.5,106.3 L1786.5,106.6 L1787.5,106.9 L1788.6,107.2 L1789.6,107.4 L1790.6,107.7 L1791.6,107.9 L1792.7,108.1 L1793.7,108.2 L1794.7,108.3 L1795.8,108.4 L1796.8,108.5 L1797.8,108.5 L1798.8,108.5 L1799.9,108.4 L1800.9,108.3 L1801.9,108.2 L1802.9,108.0 L1804.0,107.8 L1805.0,107.6 L1806.0,107.4 L1807.1,107.1 L1808.1,106.8 L1809.1,106.5 L1810.2,106.2 L1811.2,105.9 L1812.2,105.5 L1813.2,105.2 L1814.3,104.9 L1815.3,104.6 L1816.3,104.3 L1817.4,104.0 L1818.4,103.8 L1819.4,103.6 L1820.5,103.4 L1821.5,103.2 L1822.5,103.1 L1823.5,103.0 L1824.6,102.9 L1825.6,102.9 L1826.6,102.9 L1827.6,103.0 L1828.7,103.0 L1829.7,103.2 L1830.7,103.3 L1831.7,103.5 L1832.7,103.7 L1833.8,103.9 L1834.8,104.1 L1835.8,104.4 L1836.8,104.7 L1837.8,105.0 L1838.9,105.2 L1839.9,105.5 L1840.9,105.9 L1841.9,106.2 L1843.0,106.4 L1844.0,106.7 L1845.0,107.0 L1846.0,107.3 L1847.0,107.5 L1848.1,107.7 L1849.1,107.9 L1850.1,108.1 L1851.1,108.2 L1852.1,108.4 L1853.2,108.4 L1854.2,108.5 L1855.2,108.5 L1856.2,108.5 L1857.2,108.4 L1858.2,108.3 L1859.2,108.2 L1860.2,108.0 L1861.2,107.8 L1862.2,107.6 L1863.2,107.3 L1864.2,107.0 L1865.2,106.7 L1866.2,106.4 L1867.2,106.0 L1868.2,105.7 L1869.3,105.4 L1870.3,105.0 L1871.3,104.7 L1872.3,104.4 L1873.3,104.1 L1874.3,103.8 L1875.3,103.6 L1876.3,103.4 L1877.3,103.2 L1878.3,103.1 L1879.3,103.0 L1880.3,102.9 L1881.3,102.9 L1882.3,102.9 L1883.3,103.0 L1884.3,103.0 L1885.3,103.1 L1886.3,103.3 L1887.4,103.4 L1888.4,103.6 L1889.4,103.8 L1890.4,104.0 L1891.4,104.2 L1892.4,104.5 L1893.4,104.7 L1894.4,105.0 L1895.4,105.3 L1896.4,105.6 L1897.5,105.8 L1898.5,106.1 L1899.5,106.4 L1900.5,106.7 L1901.5,106.9 L1902.5,107.2 L1903.5,107.4 L1904.5,107.6 L1905.5,107.8 L1906.5,108.0 L1907.6,108.1 L1908.6,108.3 L1909.6,108.4 L1910.6,108.4 L1911.6,108.5 L1912.6,108.5 L1913.6,108.5 L1914.6,108.4 L1915.6,108.3 L1916.6,108.2 L1917.6,108.0 L1918.6,107.8 L1919.6,107.6 L1920.6,107.3 L1921.6,107.0 L1922.6,106.7 L1923.6,106.4 L1924.6,106.0 L1925.6,105.7 L1926.6,105.4 L1927.6,105.0 L1928.6,104.7 L1929.6,104.4 L1930.6,104.1 L1931.6,103.8 L1932.6,103.6 L1933.6,103.4 L1934.6,103.2 L1935.6,103.1 L1936.6,103.0 L1937.6,102.9 L1938.6,102.9 L1939.6,102.9 L1940.6,103.0 L1941.7,103.0 L1942.7,103.2 L1943.7,103.3 L1944.7,103.5 L1945.7,103.7 L1946.8,103.9 L1947.8,104.1 L1948.8,104.4 L1949.8,104.7 L1950.8,105.0 L1951.9,105.2 L1952.9,105.5 L1953.9,105.9 L1954.9,106.2 L1956.0,106.4 L1957.0,106.7 L1958.0,107.0 L1959.0,107.3 L1960.0,107.5 L1961.1,107.7 L1962.1,107.9 L1963.1,108.1 L1964.1,108.2 L1965.1,108.4 L1966.2,108.4 L1967.2,108.5 L1968.2,108.5 L1968.7,108.5 L1969.2,108.5 L1969.7,108.5 L1970.2,108.4 L1970.7,108.4 L1971.2,108.3 L1971.7,108.3 L1972.2,108.2 L1972.7,108.2 L1973.2,108.1 L1973.7,108.0 L1974.2,107.9 L1974.7,107.8 L1975.2,107.7 L1975.7,107.6 L1976.2,107.4 L1976.7,107.3 L1977.2,107.2 L1977.7,107.1 L1978.2,106.9 L1978.7,106.8 L1979.2,106.6 L1979.7,106.5 L1980.2,106.3 L1980.7,106.2 L1981.2,106.0 L1981.7,105.9 L1982.2,105.7 L1982.7,105.5 L1983.2,105.4 L1983.7,105.2 L1984.2,105.1 L1984.7,104.9 L1985.2,104.8 L1985.7,104.6 L1986.2,104.5 L1986.7,104.3 L1987.2,104.2 L1987.7,104.1 L1988.2,104.0 L1988.7,103.8 L1989.2,103.7 L1989.7,103.6 L1990.2,103.5 L1990.7,103.4 L1991.2,103.3 L1991.7,103.2 L1992.2,103.2" stroke="#e3151d" stroke-width="2.0"/>
<path d="M1091.7,476.0 L1091.7,473.3 L1091.8,470.1 L1091.9,466.3 L1091.9,461.9 L1092.0,456.8 L1092.1,451.2" stroke="#0606e0" stroke-width="1.0"/>
<path d="M1092.1,451.2 L1092.2,444.9 L1092.3,438.0 L1092.4,430.0 L1092.5,420.9 L1092.7,410.9 L1092.8,400.4 L1092.9,389.7 L1093.1,379.2 L1093.2,369.2 L1093.3,360.0 L1093.4,351.9 L1093.5,344.7 L1093.6,337.9 L1093.6,331.4 L1093.7,324.6 L1093.8,317.4 L1093.9,309.3 L1094.0,300.0 L1094.1,289.1 L1094.2,276.6 L1094.3,263.2 L1094.5,249.4 L1094.6,235.6 L1094.7,222.4 L1094.9,210.4 L1095.0,200.0 L1095.1,191.2 L1095.3,183.6 L1095.4,176.8 L1095.6,170.8 L1095.8,165.2 L1095.9,160.1 L1096.1,155.0 L1096.2,150.0 L1096.3,145.1 L1096.5,140.6 L1096.6,136.4 L1096.7,132.5 L1096.8,128.8 L1097.0,125.2 L1097.1,121.6 L1097.2,118.0 L1097.3,114.3 L1097.4,110.7 L1097.5,107.1 L1097.7,103.6 L1097.8,100.3 L1097.9,97.2 L1098.0,94.4 L1098.1,92.0 L1098.2,89.9 L1098.3,88.1 L1098.4,86.6 L1098.5,85.3 L1098.6,84.3 L1098.7,83.5 L1098.8,83.0 L1098.9,82.6 L1099.0,82.5 L1099.1,82.7 L1099.2,83.1 L1099.3,83.8 L1099.4,84.6 L1099.5,85.6 L1099.7,86.8 L1099.8,88.0 L1100.0,89.4 L1100.1,91.1 L1100.3,93.0 L1100.5,95.1 L1100.7,97.1 L1100.9,99.2 L1101.1,101.2 L1101.3,103.0 L1101.5,104.7 L1101.7,106.5 L1101.9,108.2 L1102.1,109.9 L1102.2,111.5 L1102.4,113.0 L1102.6,114.3 L1102.8,115.5 L1103.0,116.5 L1103.2,117.4 L1103.3,118.2 L1103.5,118.8 L1103.7,119.3 L1103.9,119.7 L1104.0,120.0 L1104.2,120.2 L1104.4,120.2 L1104.5,120.1 L1104.6,119.9 L1104.8,119.5 L1104.9,119.1 L1105.0,118.6 L1105.2,118.0 L1105.3,117.5 L1105.4,116.9 L1105.6,116.1 L1105.7,115.2 L1105.9,114.3 L1106.0,113.5 L1106.1,112.7 L1106.2,112.0 L1106.3,111.5 L1107.0,108.0 L1107.5,105.5 L1108.0,103.0 L1108.5,100.4 L1109.0,97.9 L1109.5,95.4 L1110.0,93.0 L1110.5,90.6 L1111.0,88.2 L1111.5,85.9 L1112.0,83.7 L1112.5,81.5 L1113.0,79.4 L1113.5,77.4 L1114.0,75.4 L1114.5,73.6 L1115.0,71.9 L1115.5,70.2 L1116.0,68.7 L1116.5,67.3 L1117.0,66.0 L1117.5,64.8 L1118.0,63.8 L1118.5,62.8 L1119.0,62.1 L1119.5,61.4 L1120.0,60.9 L1120.5,60.5 L1121.0,60.3 L1121.5,60.2 L1122.0,60.2 L1122.5,60.4 L1123.0,60.7 L1123.5,61.2 L1124.0,61.8 L1124.5,62.5 L1125.0,63.4 L1125.5,64.4 L1126.0,65.5 L1126.5,66.7 L1127.0,68.1 L1127.5,69.6 L1128.0,71.2 L1128.5,72.9 L1129.0,74.7 L1129.5,76.6 L1130.0,78.6 L1130.5,80.6 L1131.0,82.8 L1131.5,85.0 L1132.0,87.3 L1132.5,89.6 L1133.0,92.0 L1133.5,94.5 L1134.0,96.9 L1134.5,99.4 L1135.0,101.9 L1135.5,104.5 L1136.0,107.0 L1136.5,109.5 L1137.0,112.0 L1137.5,114.5 L1138.0,117.0 L1138.5,119.5 L1139.0,121.9 L1139.5,124.2 L1140.0,126.5 L1140.5,128.7 L1141.0,130.9 L1141.5,133.0 L1142.0,135.0 L1142.5,136.9 L1143.0,138.7 L1143.5,140.4 L1144.0,142.0 L1144.5,143.5 L1145.0,144.9 L1145.5,146.1 L1146.0,147.3 L1146.5,148.3 L1147.0,149.2 L1147.5,149.9 L1148.0,150.5 L1148.5,151.0 L1149.0,151.4 L1149.5,151.6 L1150.0,151.6 L1150.5,151.5 L1151.0,151.3 L1151.5,151.0 L1152.0,150.5 L1152.5,149.8 L1153.0,149.1 L1153.5,148.2 L1154.0,147.1 L1154.5,146.0 L1155.0,144.7 L1155.5,143.3 L1156.0,141.8 L1156.5,140.2 L1157.0,138.4 L1157.5,136.6 L1158.0,134.7 L1158.5,132.7 L1159.0,130.6 L1159.5,128.4 L1160.0,126.2 L1160.5,123.9 L1161.0,121.5 L1161.5,119.1 L1162.0,116.7 L1162.5,114.2 L1163.0,111.7 L1163.5,109.2 L1164.0,106.6 L1164.5,104.1 L1165.0,101.6 L1165.5,99.1 L1166.0,96.6 L1166.5,94.1 L1167.0,91.7 L1167.5,89.3 L1168.0,87.0 L1168.5,84.7 L1169.0,82.5 L1169.5,80.4 L1170.0,78.3 L1170.5,76.3 L1171.0,74.4 L1171.5,72.6 L1172.0,71.0 L1172.5,69.4 L1173.0,67.9 L1173.5,66.6 L1174.0,65.3 L1174.5,64.2 L1175.0,63.2 L1175.5,62.4 L1176.0,61.7 L1176.5,61.1 L1177.0,60.7 L1177.5,60.4 L1178.0,60.2 L1178.5,60.2 L1179.0,60.3 L1179.5,60.6 L1180.0,61.0 L1180.5,61.5 L1181.0,62.2 L1181.5,63.0 L1182.0,63.9 L1182.5,65.0 L1183.0,66.2 L1183.5,67.5 L1184.0,68.9 L1184.5,70.4 L1185.0,72.1 L1185.5,73.8 L1186.0,75.7 L1186.5,77.7 L1187.0,79.7 L1187.5,81.8 L1188.0,84.0 L1188.5,86.2 L1189.0,88.6 L1189.5,90.9 L1190.0,93.3 L1190.5,95.8 L1191.0,98.3 L1191.5,100.8 L1192.0,103.3 L1192.5,105.8 L1193.0,108.4 L1193.5,110.9 L1194.0,113.4 L1194.5,115.9 L1195.0,118.3 L1195.5,120.8 L1196.0,123.1 L1196.5,125.4 L1197.0,127.7 L1197.5,129.9 L1198.0,132.0 L1198.5,134.0 L1199.0,136.0 L1199.5,137.9 L1200.0,139.6 L1200.5,141.3 L1201.0,142.8 L1201.5,144.3 L1202.0,145.6 L1202.5,146.8 L1203.0,147.9 L1203.5,148.8 L1204.0,149.6 L1204.5,150.3 L1205.0,150.8 L1205.5,151.2 L1206.0,151.5 L1206.5,151.6 L1207.0,151.6 L1207.5,151.4 L1208.0,151.1 L1208.5,150.7 L1209.0,150.1 L1209.5,149.4 L1210.0,148.6 L1210.5,147.6 L1211.0,146.5 L1211.5,145.3 L1212.0,144.0 L1212.5,142.5 L1213.0,140.9 L1213.5,139.2 L1214.0,137.5 L1214.5,135.6 L1215.0,133.6 L1215.5,131.6 L1216.0,129.4 L1216.5,127.2 L1217.0,124.9 L1217.5,122.6 L1218.0,120.2 L1218.5,117.8 L1219.0,115.3 L1219.5,112.8 L1220.0,110.3 L1220.5,107.8 L1221.0,105.3 L1221.5,102.7 L1222.0,100.2 L1222.5,97.7 L1223.0,95.2 L1223.5,92.8 L1224.0,90.4 L1224.5,88.0 L1225.0,85.7 L1225.5,83.5 L1226.0,81.3 L1226.5,79.2 L1227.0,77.2 L1227.5,75.3 L1228.0,73.5 L1228.5,71.7 L1229.0,70.1 L1229.5,68.6 L1230.0,67.2 L1230.5,65.9 L1231.0,64.7 L1231.5,63.7 L1232.0,62.8 L1232.5,62.0 L1233.0,61.4 L1233.5,60.9 L1234.0,60.5 L1234.5,60.3 L1235.0,60.2 L1235.5,60.2 L1236.0,60.4 L1236.5,60.8 L1237.0,61.2 L1237.5,61.8 L1238.0,62.6 L1238.5,63.5 L1239.0,64.5 L1239.5,65.6 L1240.0,66.8 L1240.5,68.2 L1241.0,69.7 L1241.5,71.3 L1242.0,73.0 L1242.5,74.8 L1243.0,76.7 L1243.5,78.7 L1244.0,80.8 L1244.5,83.0 L1245.0,85.2 L1245.5,87.5 L1246.0,89.8 L1246.5,92.2 L1247.0,94.7 L1247.5,97.1 L1248.0,99.6 L1248.5,102.1 L1249.0,104.7 L1249.5,107.2 L1250.0,109.7 L1250.5,112.2 L1251.0,114.7 L1251.5,117.2 L1252.0,119.6 L1252.5,122.0 L1253.0,124.4 L1253.5,126.7 L1254.0,128.9 L1254.5,131.0 L1255.0,133.1 L1255.5,135.1 L1256.0,137.0 L1256.5,138.8 L1257.0,140.5 L1257.5,142.1 L1258.0,143.6 L1258.5,145.0 L1259.0,146.2 L1259.5,147.4 L1260.0,148.4 L1260.5,149.2 L1261.0,150.0 L1261.5,150.6 L1262.0,151.1 L1262.5,151.4 L1263.0,151.6 L1263.5,151.6 L1264.0,151.5 L1264.5,151.3 L1265.0,150.9 L1265.5,150.4 L1266.0,149.8 L1266.5,149.0 L1267.0,148.1 L1267.5,147.0 L1268.0,145.9 L1268.5,144.6 L1269.0,143.2 L1269.5,141.7 L1270.0,140.0 L1270.5,138.3 L1271.0,136.5 L1271.5,134.5 L1272.0,132.5 L1272.5,130.4 L1273.0,128.2 L1273.5,126.0 L1274.0,123.7 L1274.5,121.3 L1275.0,118.9 L1275.5,116.5 L1276.0,114.0 L1276.5,111.5 L1277.0,109.0 L1277.5,106.4 L1278.0,103.9 L1278.5,101.4 L1279.0,98.9 L1279.5,96.4 L1280.0,93.9 L1280.5,91.5 L1281.0,89.1 L1281.5,86.8 L1282.0,84.5 L1282.5,82.3 L1283.0,80.2 L1283.5,78.1 L1284.0,76.2 L1284.5,74.3 L1285.0,72.5 L1285.5,70.8 L1286.0,69.3 L1286.5,67.8 L1287.0,66.5 L1287.5,65.2 L1288.0,64.1 L1288.5,63.2 L1289.0,62.3 L1289.5,61.6 L1290.0,61.1 L1290.5,60.6 L1291.0,60.3 L1291.5,60.2 L1292.0,60.2 L1292.5,60.3 L1293.0,60.6 L1293.5,61.0 L1294.0,61.5 L1294.5,62.2 L1295.0,63.0 L1295.5,64.0 L1296.0,65.1 L1296.5,66.3 L1297.0,67.6 L1297.5,69.0 L1298.0,70.6 L1298.5,72.2 L1299.0,74.0 L1299.5,75.9 L1300.0,77.8 L1300.5,79.9 L1301.0,82.0 L1301.5,84.2 L1302.0,86.4 L1302.5,88.7 L1303.0,91.1 L1303.5,93.5 L1304.0,96.0 L1304.5,98.5 L1305.0,101.0 L1305.5,103.5 L1306.0,106.0 L1306.5,108.6 L1307.0,111.1 L1307.5,113.6 L1308.0,116.1 L1308.5,118.5 L1309.0,120.9 L1309.5,123.3 L1310.0,125.6 L1310.5,127.9 L1311.0,130.1 L1311.5,132.2 L1312.0,134.2 L1312.5,136.2 L1313.0,138.0 L1313.5,139.8 L1314.0,141.4 L1314.5,142.9 L1315.0,144.4 L1315.5,145.7 L1316.0,146.9 L1316.5,147.9 L1317.0,148.9 L1317.5,149.7 L1318.0,150.3 L1318.5,150.9 L1319.0,151.3 L1319.5,151.5 L1320.0,151.6 L1320.5,151.6 L1321.0,151.4 L1321.5,151.1 L1322.0,150.7 L1322.5,150.1 L1323.0,149.4 L1323.5,148.5 L1324.0,147.5 L1324.5,146.4 L1325.0,145.2 L1325.5,143.8 L1326.0,142.4 L1326.5,140.8 L1327.0,139.1 L1327.5,137.3 L1328.0,135.4 L1328.5,133.4 L1329.0,131.4 L1329.5,129.2 L1330.0,127.0 L1330.5,124.8 L1331.0,122.4 L1331.5,120.0 L1332.0,117.6 L1332.5,115.1 L1333.0,112.6 L1333.5,110.1 L1334.0,107.6 L1334.5,105.1 L1335.0,102.5 L1335.5,100.0 L1336.0,97.5 L1336.5,95.1 L1337.0,92.6 L1337.5,90.2 L1338.0,87.9 L1338.5,85.6 L1339.0,83.3 L1339.5,81.2 L1340.0,79.1 L1340.5,77.1 L1341.0,75.1 L1341.5,73.3 L1342.0,71.6 L1342.5,70.0 L1343.0,68.5 L1343.5,67.1 L1344.0,65.8 L1344.5,64.6 L1345.0,63.6 L1345.5,62.7 L1346.0,61.9 L1346.5,61.3 L1347.0,60.8 L1347.5,60.5 L1348.0,60.2 L1348.5,60.2 L1349.0,60.2 L1349.5,60.4 L1350.0,60.8 L1350.5,61.3 L1351.0,61.9 L1351.5,62.6 L1352.0,63.5 L1352.5,64.5 L1353.0,65.7 L1353.5,67.0 L1354.0,68.3 L1354.5,69.8 L1355.0,71.5 L1355.5,73.2 L1356.0,75.0 L1356.5,76.9 L1357.0,78.9 L1357.5,81.0 L1358.0,83.1 L1358.5,85.4 L1359.0,87.7 L1359.5,90.0 L1360.0,92.4 L1360.5,94.9 L1361.0,97.3 L1361.5,99.8 L1362.0,102.3 L1362.5,104.9 L1363.0,107.4 L1363.5,109.9 L1364.0,112.4 L1364.5,114.9 L1365.0,117.4 L1365.5,119.8 L1366.0,122.2 L1366.5,124.6 L1367.0,126.9 L1367.5,129.1 L1368.0,131.2 L1368.5,133.3 L1369.0,135.3 L1369.5,137.2 L1370.0,139.0 L1370.5,140.7 L1371.0,142.3 L1371.5,143.7 L1372.0,145.1 L1372.5,146.3 L1373.0,147.5 L1373.5,148.5 L1374.0,149.3 L1374.5,150.0 L1375.0,150.6 L1375.5,151.1 L1376.0,151.4 L1376.5,151.6 L1377.0,151.6 L1377.5,151.5 L1378.0,151.3 L1378.5,150.9 L1379.0,150.4 L1379.5,149.7 L1380.0,148.9 L1380.5,148.0 L1381.0,147.0 L1381.5,145.8 L1382.0,144.5 L1382.5,143.1 L1383.0,141.5 L1383.5,139.9 L1384.0,138.1 L1384.5,136.3 L1385.0,134.4 L1385.5,132.3 L1386.0,130.2 L1386.5,128.1 L1387.0,125.8 L1387.5,123.5 L1388.0,121.1 L1388.5,118.7 L1389.0,116.3 L1389.5,113.8 L1390.0,111.3 L1390.5,108.8 L1391.0,106.2 L1391.5,103.7 L1392.0,101.2 L1392.5,98.7 L1393.0,96.2 L1393.5,93.7 L1394.0,91.3 L1394.5,88.9 L1395.0,86.6 L1395.5,84.3 L1396.0,82.1 L1396.5,80.0 L1397.0,78.0 L1397.5,76.0 L1398.0,74.1 L1398.5,72.4 L1399.0,70.7 L1399.5,69.1 L1400.0,67.7 L1400.5,66.4 L1401.0,65.1 L1401.5,64.1 L1402.0,63.1 L1402.5,62.3 L1403.0,61.6 L1403.5,61.0 L1404.0,60.6 L1404.5,60.3 L1405.0,60.2 L1405.5,60.2 L1406.0,60.3 L1406.5,60.6 L1407.0,61.0 L1407.5,61.6 L1408.0,62.3 L1408.5,63.1 L1409.0,64.1 L1409.5,65.1 L1410.0,66.4 L1410.5,67.7 L1411.0,69.1 L1411.5,70.7 L1412.0,72.4 L1412.5,74.1 L1413.0,76.0 L1413.5,78.0 L1414.0,80.0 L1414.5,82.1 L1415.0,84.3 L1415.5,86.6 L1416.0,88.9 L1416.5,91.3 L1417.0,93.7 L1417.5,96.2 L1418.0,98.7 L1418.5,101.2 L1419.0,103.7 L1419.5,106.2 L1420.0,108.8 L1420.5,111.3 L1421.0,113.8 L1421.5,116.3 L1422.0,118.7 L1422.5,121.1 L1423.0,123.5 L1423.5,125.8 L1424.0,128.1 L1424.5,130.2 L1425.0,132.3 L1425.5,134.4 L1426.0,136.3 L1426.5,138.1 L1427.0,139.9 L1427.5,141.5 L1428.0,143.1 L1428.5,144.5 L1429.0,145.8 L1429.5,147.0 L1430.0,148.0 L1430.5,148.9 L1431.0,149.7 L1431.5,150.4 L1432.0,150.9 L1432.5,151.3 L1433.0,151.5 L1433.5,151.6 L1434.0,151.6 L1434.5,151.4 L1435.0,151.1 L1435.5,150.6 L1436.0,150.0 L1436.5,149.3 L1437.0,148.5 L1437.5,147.5 L1438.0,146.3 L1438.5,145.1 L1439.0,143.7 L1439.5,142.3 L1440.0,140.7 L1440.5,139.0 L1441.0,137.2 L1441.5,135.3 L1442.0,133.3 L1442.5,131.2 L1443.0,129.1 L1443.5,126.9 L1444.0,124.6 L1444.5,122.2 L1445.0,119.8 L1445.5,117.4 L1446.0,114.9 L1446.5,112.4 L1447.0,109.9 L1447.5,107.4 L1448.0,104.9 L1448.5,102.3 L1449.0,99.8 L1449.5,97.3 L1450.0,94.9 L1450.5,92.4 L1451.0,90.0 L1451.5,87.7 L1452.0,85.4 L1452.5,83.1 L1453.0,81.0 L1453.5,78.9 L1454.0,76.9 L1454.5,75.0 L1455.0,73.2 L1455.5,71.5 L1456.0,69.8 L1456.5,68.3 L1457.0,67.0 L1457.5,65.7 L1458.0,64.5 L1458.5,63.5 L1459.0,62.6 L1459.5,61.9 L1460.0,61.3 L1460.5,60.8 L1461.0,60.4 L1461.5,60.2 L1462.0,60.2 L1462.5,60.2 L1463.0,60.5 L1463.5,60.8 L1464.0,61.3 L1464.5,61.9 L1465.0,62.7 L1465.5,63.6 L1466.0,64.6 L1466.5,65.8 L1467.0,67.1 L1467.5,68.5 L1468.0,70.0 L1468.5,71.6 L1469.0,73.3 L1469.5,75.1 L1470.0,77.1 L1470.5,79.1 L1471.0,81.2 L1471.5,83.3 L1472.0,85.6 L1472.5,87.9 L1473.0,90.2 L1473.5,92.6 L1474.0,95.1 L1474.5,97.5 L1475.0,100.0 L1475.5,102.5 L1476.0,105.1 L1476.5,107.6 L1477.0,110.1 L1477.5,112.6 L1478.0,115.1 L1478.5,117.6 L1479.0,120.0 L1479.5,122.4 L1480.0,124.8 L1480.5,127.0 L1481.0,129.2 L1481.5,131.4 L1482.0,133.4 L1482.5,135.4 L1483.0,137.3 L1483.5,139.1 L1484.0,140.8 L1484.5,142.4 L1485.0,143.8 L1485.5,145.2 L1486.0,146.4 L1486.5,147.5 L1487.0,148.5 L1487.5,149.4 L1488.0,150.1 L1488.5,150.7 L1489.0,151.1 L1489.5,151.4 L1490.0,151.6 L1490.5,151.6 L1491.0,151.5 L1491.5,151.3 L1492.0,150.9 L1492.5,150.3 L1493.0,149.7 L1493.5,148.9 L1494.0,147.9 L1494.5,146.9 L1495.0,145.7 L1495.5,144.4 L1496.0,142.9 L1496.5,141.4 L1497.0,139.8 L1497.5,138.0 L1498.0,136.2 L1498.5,134.2 L1499.0,132.2 L1499.5,130.1 L1500.0,127.9 L1500.5,125.6 L1501.0,123.3 L1501.5,120.9 L1502.0,118.5 L1502.5,116.1 L1503.0,113.6 L1503.5,111.1 L1504.0,108.6 L1504.5,106.0 L1505.0,103.5 L1505.5,101.0 L1506.0,98.5 L1506.5,96.0 L1507.0,93.5 L1507.5,91.1 L1508.0,88.7 L1508.5,86.4 L1509.0,84.2 L1509.5,82.0 L1510.0,79.9 L1510.5,77.8 L1511.0,75.9 L1511.5,74.0 L1512.0,72.2 L1512.5,70.6 L1513.0,69.0 L1513.5,67.6 L1514.0,66.3 L1514.5,65.1 L1515.0,64.0 L1515.5,63.0 L1516.0,62.2 L1516.5,61.5 L1517.0,61.0 L1517.5,60.6 L1518.0,60.3 L1518.5,60.2 L1519.0,60.2 L1519.5,60.3 L1520.0,60.6 L1520.5,61.1 L1521.0,61.6 L1521.5,62.3 L1522.0,63.2 L1522.5,64.1 L1523.0,65.2 L1523.5,66.5 L1524.0,67.8 L1524.5,69.3 L1525.0,70.8 L1525.5,72.5 L1526.0,74.3 L1526.5,76.2 L1527.0,78.1 L1527.5,80.2 L1528.0,82.3 L1528.5,84.5 L1529.0,86.8 L1529.5,89.1 L1530.0,91.5 L1530.5,93.9 L1531.0,96.4 L1531.5,98.9 L1532.0,101.4 L1532.5,103.9 L1533.0,106.4 L1533.5,109.0 L1534.0,111.5 L1534.5,114.0 L1535.0,116.5 L1535.5,118.9 L1536.0,121.3 L1536.5,123.7 L1537.0,126.0 L1537.5,128.2 L1538.0,130.4 L1538.5,132.5 L1539.0,134.5 L1539.5,136.5 L1540.0,138.3 L1540.5,140.0 L1541.0,141.7 L1541.5,143.2 L1542.0,144.6 L1542.5,145.9 L1543.0,147.0 L1543.5,148.1 L1544.0,149.0 L1544.5,149.8 L1545.0,150.4 L1545.5,150.9 L1546.0,151.3 L1546.5,151.5 L1547.0,151.6 L1547.5,151.6 L1548.0,151.4 L1548.5,151.1 L1549.0,150.6 L1549.5,150.0 L1550.0,149.2 L1550.5,148.4 L1551.0,147.4 L1551.5,146.2 L1552.0,145.0 L1552.5,143.6 L1553.0,142.1 L1553.5,140.5 L1554.0,138.8 L1554.5,137.0 L1555.0,135.1 L1555.5,133.1 L1556.0,131.0 L1556.5,128.9 L1557.0,126.7 L1557.5,124.4 L1558.0,122.0 L1558.5,119.6 L1559.0,117.2 L1559.5,114.7 L1560.0,112.2 L1560.5,109.7 L1561.0,107.2 L1561.5,104.7 L1562.0,102.1 L1562.5,99.6 L1563.0,97.1 L1563.5,94.7 L1564.0,92.2 L1564.5,89.8 L1565.0,87.5 L1565.5,85.2 L1566.0,83.0 L1566.5,80.8 L1567.0,78.7 L1567.5,76.7 L1568.0,74.8 L1568.5,73.0 L1569.0,71.3 L1569.5,69.7 L1570.0,68.2 L1570.5,66.8 L1571.0,65.6 L1571.5,64.5 L1572.0,63.5 L1572.5,62.6 L1573.0,61.8 L1573.5,61.2 L1574.0,60.8 L1574.5,60.4 L1575.0,60.2 L1575.5,60.2 L1576.0,60.3 L1576.5,60.5 L1577.0,60.9 L1577.5,61.4 L1578.0,62.0 L1578.5,62.8 L1579.0,63.7 L1579.5,64.7 L1580.0,65.9 L1580.5,67.2 L1581.0,68.6 L1581.5,70.1 L1582.0,71.7 L1582.5,73.5 L1583.0,75.3 L1583.5,77.2 L1584.0,79.2 L1584.5,81.3 L1585.0,83.5 L1585.5,85.7 L1586.0,88.0 L1586.5,90.4 L1587.0,92.8 L1587.5,95.2 L1588.0,97.7 L1588.5,100.2 L1589.0,102.7 L1589.5,105.3 L1590.0,107.8 L1590.5,110.3 L1591.0,112.8 L1591.5,115.3 L1592.0,117.8 L1592.5,120.2 L1593.0,122.6 L1593.5,124.9 L1594.0,127.2 L1594.5,129.4 L1595.0,131.6 L1595.5,133.6 L1596.0,135.6 L1596.5,137.5 L1597.0,139.2 L1597.5,140.9 L1598.0,142.5 L1598.5,144.0 L1599.0,145.3 L1599.5,146.5 L1600.0,147.6 L1600.5,148.6 L1601.0,149.4 L1601.5,150.1 L1602.0,150.7 L1602.5,151.1 L1603.0,151.4 L1603.5,151.6 L1604.0,151.6 L1604.5,151.5 L1605.0,151.2 L1605.5,150.8 L1606.0,150.3 L1606.5,149.6 L1607.0,148.8 L1607.5,147.9 L1608.0,146.8 L1608.5,145.6 L1609.0,144.3 L1609.5,142.8 L1610.0,141.3 L1610.5,139.6 L1611.0,137.9 L1611.5,136.0 L1612.0,134.0 L1612.5,132.0 L1613.0,129.9 L1613.5,127.7 L1614.0,125.4 L1614.5,123.1 L1615.0,120.8 L1615.5,118.3 L1616.0,115.9 L1616.5,113.4 L1617.0,110.9 L1617.5,108.4 L1618.0,105.8 L1618.5,103.3 L1619.0,100.8 L1619.5,98.3 L1620.0,95.8 L1620.5,93.3 L1621.0,90.9 L1621.5,88.6 L1622.0,86.2 L1622.5,84.0 L1623.0,81.8 L1623.5,79.7 L1624.0,77.7 L1624.5,75.7 L1625.0,73.8 L1625.5,72.1 L1626.0,70.4 L1626.5,68.9 L1627.0,67.5 L1627.5,66.2 L1628.0,65.0 L1628.5,63.9 L1629.0,63.0 L1629.5,62.2 L1630.0,61.5 L1630.5,61.0 L1631.0,60.6 L1631.5,60.3 L1632.0,60.2 L1632.5,60.2 L1633.0,60.4 L1633.5,60.7 L1634.0,61.1 L1634.5,61.7 L1635.0,62.4 L1635.5,63.2 L1636.0,64.2 L1636.5,65.3 L1637.0,66.6 L1637.5,67.9 L1638.0,69.4 L1638.5,71.0 L1639.0,72.6 L1639.5,74.4 L1640.0,76.3 L1640.5,78.3 L1641.0,80.4 L1641.5,82.5 L1642.0,84.7 L1642.5,87.0 L1643.0,89.3 L1643.5,91.7 L1644.0,94.1 L1644.5,96.6 L1645.0,99.1 L1645.5,101.6 L1646.0,104.1 L1646.5,106.6 L1647.0,109.2 L1647.5,111.7 L1648.0,114.2 L1648.5,116.7 L1649.0,119.1 L1649.5,121.5 L1650.0,123.9 L1650.5,126.2 L1651.0,128.4 L1651.5,130.6 L1652.0,132.7 L1652.5,134.7 L1653.0,136.6 L1653.5,138.4 L1654.0,140.2 L1654.5,141.8 L1655.0,143.3 L1655.5,144.7 L1656.0,146.0 L1656.5,147.1 L1657.0,148.2 L1657.5,149.1 L1658.0,149.8 L1658.5,150.5 L1659.0,151.0 L1659.5,151.3 L1660.0,151.5 L1660.5,151.6 L1661.0,151.6 L1661.5,151.4 L1662.0,151.0 L1662.5,150.5 L1663.0,149.9 L1663.5,149.2 L1664.0,148.3 L1664.5,147.3 L1665.0,146.1 L1665.5,144.9 L1666.0,143.5 L1666.5,142.0 L1667.0,140.4 L1667.5,138.7 L1668.0,136.9 L1668.5,135.0 L1669.0,133.0 L1669.5,130.9 L1670.0,128.7 L1670.5,126.5 L1671.0,124.2 L1671.5,121.9 L1672.0,119.5 L1672.5,117.0 L1673.0,114.5 L1673.5,112.0 L1674.0,109.5 L1674.5,107.0 L1675.0,104.5 L1675.5,101.9 L1676.0,99.4 L1676.5,96.9 L1677.0,94.5 L1677.5,92.0 L1678.0,89.6 L1678.5,87.3 L1679.0,85.0 L1679.5,82.8 L1680.0,80.6 L1680.5,78.6 L1681.0,76.6 L1681.5,74.7 L1682.0,72.9 L1682.5,71.2 L1683.0,69.6 L1683.5,68.1 L1684.0,66.7 L1684.5,65.5 L1685.0,64.4 L1685.5,63.4 L1686.0,62.5 L1686.5,61.8 L1687.0,61.2 L1687.5,60.7 L1688.0,60.4 L1688.5,60.2 L1689.0,60.2 L1689.5,60.3 L1690.0,60.5 L1690.5,60.9 L1691.0,61.4 L1691.5,62.1 L1692.0,62.8 L1692.5,63.8 L1693.0,64.8 L1693.5,66.0 L1694.0,67.3 L1694.5,68.7 L1695.0,70.2 L1695.5,71.9 L1696.0,73.6 L1696.5,75.4 L1697.0,77.4 L1697.5,79.4 L1698.0,81.5 L1698.5,83.7 L1699.0,85.9 L1699.5,88.2 L1700.0,90.6 L1700.5,93.0 L1701.0,95.4 L1701.5,97.9 L1702.0,100.4 L1702.5,103.0 L1703.0,105.5 L1703.5,108.0 L1704.0,110.5 L1704.5,113.0 L1705.0,115.5 L1705.5,118.0 L1706.0,120.4 L1706.5,122.8 L1707.0,125.1 L1707.5,127.4 L1708.0,129.6 L1708.5,131.7 L1709.0,133.8 L1709.5,135.7 L1710.0,137.6 L1710.5,139.4 L1711.0,141.1 L1711.5,142.6 L1712.0,144.1 L1712.5,145.4 L1713.0,146.6 L1713.5,147.7 L1714.0,148.7 L1714.5,149.5 L1715.0,150.2 L1715.5,150.8 L1716.0,151.2 L1716.5,151.5 L1717.0,151.6 L1717.5,151.6 L1718.0,151.5 L1718.5,151.2 L1719.0,150.8 L1719.5,150.2 L1720.0,149.5 L1720.5,148.7 L1721.0,147.8 L1721.5,146.7 L1722.0,145.5 L1722.5,144.2 L1723.0,142.7 L1723.5,141.1 L1724.0,139.5 L1724.5,137.7 L1725.0,135.8 L1725.5,133.9 L1726.0,131.8 L1726.5,129.7 L1727.0,127.5 L1727.5,125.3 L1728.0,122.9 L1728.5,120.6 L1729.0,118.1 L1729.5,115.7 L1730.0,113.2 L1730.5,110.7 L1731.0,108.2 L1731.5,105.6 L1732.0,103.1 L1732.5,100.6 L1733.0,98.1 L1733.5,95.6 L1734.0,93.1 L1734.5,90.7 L1735.0,88.4 L1735.5,86.1 L1736.0,83.8 L1736.5,81.6 L1737.0,79.5 L1737.5,77.5 L1738.0,75.6 L1738.5,73.7 L1739.0,72.0 L1739.5,70.3 L1740.0,68.8 L1740.5,67.4 L1741.0,66.1 L1741.5,64.9 L1742.0,63.8 L1742.5,62.9 L1743.0,62.1 L1743.5,61.4 L1744.0,60.9 L1744.5,60.5 L1745.0,60.3 L1745.5,60.2 L1746.0,60.2 L1746.5,60.4 L1747.0,60.7 L1747.5,61.2 L1748.0,61.7 L1748.5,62.5 L1749.0,63.3 L1749.5,64.3 L1750.0,65.4 L1750.5,66.7 L1751.0,68.0 L1751.5,69.5 L1752.0,71.1 L1752.5,72.8 L1753.0,74.6 L1753.5,76.5 L1754.0,78.5 L1754.5,80.5 L1755.0,82.7 L1755.5,84.9 L1756.0,87.2 L1756.5,89.5 L1757.0,91.9 L1757.5,94.3 L1758.0,96.8 L1758.5,99.3 L1759.0,101.8 L1759.5,104.3 L1760.0,106.8 L1760.5,109.4 L1761.0,111.9 L1761.5,114.4 L1762.0,116.9 L1762.5,119.3 L1763.0,121.7 L1763.5,124.1 L1764.0,126.4 L1764.5,128.6 L1765.0,130.8 L1765.5,132.8 L1766.0,134.8 L1766.5,136.8 L1767.0,138.6 L1767.5,140.3 L1768.0,141.9 L1768.5,143.4 L1769.0,144.8 L1769.5,146.1 L1770.0,147.2 L1770.5,148.2 L1771.0,149.1 L1771.5,149.9 L1772.0,150.5 L1772.5,151.0 L1773.0,151.3 L1773.5,151.6 L1774.0,151.6 L1774.5,151.6 L1775.0,151.3 L1775.5,151.0 L1776.0,150.5 L1776.5,149.9 L1777.0,149.1 L1777.5,148.2 L1778.0,147.2 L1778.5,146.1 L1779.0,144.8 L1779.5,143.4 L1780.0,141.9 L1780.5,140.3 L1781.0,138.5 L1781.5,136.7 L1782.0,134.8 L1782.5,132.8 L1783.0,130.7 L1783.5,128.5 L1784.0,126.3 L1784.5,124.0 L1785.0,121.7 L1785.5,119.3 L1786.0,116.8 L1786.5,114.3 L1787.0,111.8 L1787.5,109.3 L1788.0,106.8 L1788.5,104.3 L1789.0,101.7 L1789.5,99.2 L1790.0,96.7 L1790.5,94.3 L1791.0,91.8 L1791.5,89.5 L1792.0,87.1 L1792.5,84.8 L1793.0,82.6 L1793.5,80.5 L1794.0,78.4 L1794.5,76.4 L1795.0,74.5 L1795.5,72.7 L1796.0,71.1 L1796.5,69.5 L1797.0,68.0 L1797.5,66.6 L1798.0,65.4 L1798.5,64.3 L1799.0,63.3 L1799.5,62.4 L1800.0,61.7 L1800.5,61.1 L1801.0,60.7 L1801.5,60.4 L1802.0,60.2 L1802.5,60.2 L1803.0,60.3 L1803.5,60.5 L1804.0,60.9 L1804.5,61.5 L1805.0,62.1 L1805.5,62.9 L1806.0,63.8 L1806.5,64.9 L1807.0,66.1 L1807.5,67.4 L1808.0,68.8 L1808.5,70.3 L1809.0,72.0 L1809.5,73.7 L1810.0,75.6 L1810.5,77.5 L1811.0,79.6 L1811.5,81.7 L1812.0,83.9 L1812.5,86.1 L1813.0,88.4 L1813.5,90.8 L1814.0,93.2 L1814.5,95.6 L1815.0,98.1 L1815.5,100.6 L1816.0,103.2 L1816.5,105.7 L1817.0,108.2 L1817.5,110.7 L1818.0,113.2 L1818.5,115.7 L1819.0,118.2 L1819.5,120.6 L1820.0,123.0 L1820.5,125.3 L1821.0,127.6 L1821.5,129.8 L1822.0,131.9 L1822.5,133.9 L1823.0,135.9 L1823.5,137.8 L1824.0,139.5 L1824.5,141.2 L1825.0,142.7 L1825.5,144.2 L1826.0,145.5 L1826.5,146.7 L1827.0,147.8 L1827.5,148.7 L1828.0,149.6 L1828.5,150.2 L1829.0,150.8 L1829.5,151.2 L1830.0,151.5 L1830.5,151.6 L1831.0,151.6 L1831.5,151.5 L1832.0,151.2 L1832.5,150.7 L1833.0,150.2 L1833.5,149.5 L1834.0,148.7 L1834.5,147.7 L1835.0,146.6 L1835.5,145.4 L1836.0,144.0 L1836.5,142.6 L1837.0,141.0 L1837.5,139.3 L1838.0,137.6 L1838.5,135.7 L1839.0,133.7 L1839.5,131.7 L1840.0,129.5 L1840.5,127.3 L1841.0,125.1 L1841.5,122.8 L1842.0,120.4 L1842.5,117.9 L1843.0,115.5 L1843.5,113.0 L1844.0,110.5 L1844.5,108.0 L1845.0,105.4 L1845.5,102.9 L1846.0,100.4 L1846.5,97.9 L1847.0,95.4 L1847.5,93.0 L1848.0,90.5 L1848.5,88.2 L1849.0,85.9 L1849.5,83.6 L1850.0,81.5 L1850.5,79.4 L1851.0,77.3 L1851.5,75.4 L1852.0,73.6 L1852.5,71.8 L1853.0,70.2 L1853.5,68.7 L1854.0,67.2 L1854.5,66.0 L1855.0,64.8 L1855.5,63.7 L1856.0,62.8 L1856.5,62.0 L1857.0,61.4 L1857.5,60.9 L1858.0,60.5 L1858.5,60.3 L1859.0,60.2 L1859.5,60.2 L1860.0,60.4 L1860.5,60.7 L1861.0,61.2 L1861.5,61.8 L1862.0,62.5 L1862.5,63.4 L1863.0,64.4 L1863.5,65.5 L1864.0,66.8 L1864.5,68.1 L1865.0,69.6 L1865.5,71.2 L1866.0,72.9 L1866.5,74.7 L1867.0,76.6 L1867.5,78.6 L1868.0,80.7 L1868.5,82.8 L1869.0,85.1 L1869.5,87.3 L1870.0,89.7 L1870.5,92.1 L1871.0,94.5 L1871.5,97.0 L1872.0,99.5 L1872.5,102.0 L1873.0,104.5 L1873.5,107.1 L1874.0,109.6 L1874.5,112.1 L1875.0,114.6 L1875.5,117.1 L1876.0,119.5 L1876.5,121.9 L1877.0,124.2 L1877.5,126.5 L1878.0,128.8 L1878.5,130.9 L1879.0,133.0 L1879.5,135.0 L1880.0,136.9 L1880.5,138.7 L1881.0,140.4 L1881.5,142.0 L1882.0,143.5 L1882.5,144.9 L1883.0,146.2 L1883.5,147.3 L1884.0,148.3 L1884.5,149.2 L1885.0,149.9 L1885.5,150.6 L1886.0,151.0 L1886.5,151.4 L1887.0,151.6 L1887.5,151.6 L1888.0,151.5 L1888.5,151.3 L1889.0,151.0 L1889.5,150.5 L1890.0,149.8 L1890.5,149.1 L1891.0,148.1 L1891.5,147.1 L1892.0,146.0 L1892.5,144.7 L1893.0,143.3 L1893.5,141.8 L1894.0,140.1 L1894.5,138.4 L1895.0,136.6 L1895.5,134.6 L1896.0,132.6 L1896.5,130.5 L1897.0,128.4 L1897.5,126.1 L1898.0,123.8 L1898.5,121.5 L1899.0,119.1 L1899.5,116.6 L1900.0,114.1 L1900.5,111.6 L1901.0,109.1 L1901.5,106.6 L1902.0,104.1 L1902.5,101.5 L1903.0,99.0 L1903.5,96.5 L1904.0,94.1 L1904.5,91.6 L1905.0,89.3 L1905.5,86.9 L1906.0,84.7 L1906.5,82.4 L1907.0,80.3 L1907.5,78.3 L1908.0,76.3 L1908.5,74.4 L1909.0,72.6 L1909.5,70.9 L1910.0,69.3 L1910.5,67.9 L1911.0,66.5 L1911.5,65.3 L1912.0,64.2 L1912.5,63.2 L1913.0,62.4 L1913.5,61.7 L1914.0,61.1 L1914.5,60.7 L1915.0,60.4 L1915.5,60.2 L1916.0,60.2 L1916.5,60.3 L1917.0,60.6 L1917.5,61.0 L1918.0,61.5 L1918.5,62.2 L1919.0,63.0 L1919.5,63.9 L1920.0,65.0 L1920.5,66.2 L1921.0,67.5 L1921.5,68.9 L1922.0,70.5 L1922.5,72.1 L1923.0,73.9 L1923.5,75.7 L1924.0,77.7 L1924.5,79.7 L1925.0,81.8 L1925.5,84.0 L1926.0,86.3 L1926.5,88.6 L1927.0,91.0 L1927.5,93.4 L1928.0,95.8 L1928.5,98.3 L1929.0,100.8 L1929.5,103.4 L1930.0,105.9 L1930.5,108.4 L1931.0,110.9 L1931.5,113.4 L1932.0,115.9 L1932.5,118.4 L1933.0,120.8 L1933.5,123.2 L1934.0,125.5 L1934.5,127.7 L1935.0,129.9 L1935.5,132.1 L1936.0,134.1 L1936.5,136.0 L1937.0,137.9 L1937.5,139.7 L1938.0,141.3 L1938.5,142.9 L1939.0,144.3 L1939.5,145.6 L1940.0,146.8 L1940.5,147.9 L1941.0,148.8 L1941.5,149.6 L1942.0,150.3 L1942.5,150.8 L1943.0,151.2 L1943.5,151.5 L1944.0,151.6 L1944.5,151.6 L1945.0,151.4 L1945.5,151.1 L1946.0,150.7 L1946.5,150.1 L1947.0,149.4 L1947.5,148.6 L1948.0,147.6 L1948.5,146.5 L1949.0,145.3 L1949.5,143.9 L1950.0,142.5 L1950.5,140.9 L1951.0,139.2 L1951.5,137.4 L1952.0,135.5 L1952.5,133.6 L1953.0,131.5 L1953.5,129.4 L1954.0,127.2 L1954.5,124.9 L1955.0,122.6 L1955.5,120.2 L1956.0,117.8 L1956.5,115.3 L1957.0,112.8 L1957.5,110.3 L1958.0,107.8 L1958.5,105.2 L1959.0,102.7 L1959.5,100.2 L1960.0,97.7 L1960.5,95.2 L1961.0,92.8 L1961.5,90.4 L1962.0,88.0 L1962.5,85.7 L1963.0,83.5 L1963.5,81.3 L1964.0,79.2 L1964.5,77.2 L1965.0,75.3 L1965.5,73.4 L1966.0,71.7 L1966.5,70.1 L1967.0,68.5 L1967.5,67.1 L1968.0,65.9 L1968.5,64.7 L1969.0,63.7 L1969.5,62.8 L1970.0,62.0 L1970.5,61.3 L1971.0,60.8 L1971.5,60.5 L1972.0,60.3 L1972.5,60.2 L1973.0,60.2 L1973.5,60.4 L1974.0,60.8 L1974.5,61.2 L1975.0,61.8 L1975.5,62.6 L1976.0,63.5 L1976.5,64.5 L1977.0,65.6 L1977.5,66.9 L1978.0,68.3 L1978.5,69.7 L1979.0,71.4 L1979.5,73.1 L1980.0,74.9 L1980.5,76.8 L1981.0,78.8 L1981.5,80.9 L1982.0,83.0 L1982.5,85.2 L1983.0,87.5 L1983.5,89.9 L1984.0,92.3 L1984.5,94.7 L1985.0,97.2 L1985.5,99.7 L1986.0,102.2 L1986.5,104.7 L1987.0,107.3 L1987.5,109.8 L1988.0,112.3 L1988.5,114.8 L1989.0,117.3 L1989.5,119.7 L1990.0,122.1 L1990.5,124.4 L1991.0,126.7 L1991.5,128.9 L1992.0,131.1 L1992.5,133.2" stroke="#0606e0" stroke-width="2.15" stroke-dasharray="9.4 5.7"/>
</g>
<text class="se" transform="translate(64.60,27.60)" text-anchor="end" font-size="19.7" fill="#111">0.3</text>
<text class="se" transform="translate(64.60,81.02)" text-anchor="end" font-size="19.7" fill="#111">0.25</text>
<text class="se" transform="translate(64.60,134.44)" text-anchor="end" font-size="19.7" fill="#111">0.2</text>
<text class="se" transform="translate(64.60,187.86)" text-anchor="end" font-size="19.7" fill="#111">0.15</text>
<text class="se" transform="translate(64.60,241.28)" text-anchor="end" font-size="19.7" fill="#111">0.1</text>
<text class="se" transform="translate(64.60,294.70)" text-anchor="end" font-size="19.7" fill="#111">0.05</text>
<text class="se" transform="translate(64.60,348.12)" text-anchor="end" font-size="19.7" fill="#111">0</text>
<text class="se" transform="translate(64.60,401.54)" text-anchor="end" font-size="19.7" fill="#111">-<tspan dx="-0.9">0.05</tspan></text>
<text class="se" transform="translate(64.60,454.96)" text-anchor="end" font-size="19.7" fill="#111">-<tspan dx="-0.9">0.1</tspan></text>
<text class="se" transform="translate(64.60,508.38)" text-anchor="end" font-size="19.7" fill="#111">-<tspan dx="-0.9">0.15</tspan></text>
<text class="se" transform="translate(73.20,560.70) scale(0.97,1)" text-anchor="middle" font-size="19.7" fill="#111">0</text>
<text class="se" transform="translate(162.33,560.70) scale(0.97,1)" text-anchor="middle" font-size="19.7" fill="#111">10</text>
<text class="se" transform="translate(251.95,560.70) scale(0.97,1)" text-anchor="middle" font-size="19.7" fill="#111">20</text>
<text class="se" transform="translate(341.57,560.70) scale(0.97,1)" text-anchor="middle" font-size="19.7" fill="#111">30</text>
<text class="se" transform="translate(431.20,560.70) scale(0.97,1)" text-anchor="middle" font-size="19.7" fill="#111">40</text>
<text class="se" transform="translate(520.82,560.70) scale(0.97,1)" text-anchor="middle" font-size="19.7" fill="#111">50</text>
<text class="se" transform="translate(610.45,560.70) scale(0.97,1)" text-anchor="middle" font-size="19.7" fill="#111">60</text>
<text class="se" transform="translate(700.07,560.70) scale(0.97,1)" text-anchor="middle" font-size="19.7" fill="#111">70</text>
<text class="se" transform="translate(789.70,560.70) scale(0.97,1)" text-anchor="middle" font-size="19.7" fill="#111">80</text>
<text class="se" transform="translate(879.32,560.70) scale(0.97,1)" text-anchor="middle" font-size="19.7" fill="#111">90</text>
<text class="se" transform="translate(969.50,560.70) scale(0.97,1)" text-anchor="middle" font-size="19.7" fill="#111">100</text>
<text class="se" transform="translate(1082.60,48.20)" text-anchor="end" font-size="19.7" fill="#111">0.2</text>
<text class="se" transform="translate(1082.60,114.47)" text-anchor="end" font-size="19.7" fill="#111">0</text>
<text class="se" transform="translate(1082.60,180.74)" text-anchor="end" font-size="19.7" fill="#111">-<tspan dx="-0.9">0.2</tspan></text>
<text class="se" transform="translate(1082.60,247.01)" text-anchor="end" font-size="19.7" fill="#111">-<tspan dx="-0.9">0.4</tspan></text>
<text class="se" transform="translate(1082.60,313.28)" text-anchor="end" font-size="19.7" fill="#111">-<tspan dx="-0.9">0.6</tspan></text>
<text class="se" transform="translate(1082.60,379.55)" text-anchor="end" font-size="19.7" fill="#111">-<tspan dx="-0.9">0.8</tspan></text>
<text class="se" transform="translate(1081.10,445.82)" text-anchor="end" font-size="19.7" fill="#111">-<tspan dx="-0.9">1</tspan></text>
<text class="se" transform="translate(1082.60,512.09)" text-anchor="end" font-size="19.7" fill="#111">-<tspan dx="-0.9">1.2</tspan></text>
<text class="se" transform="translate(1090.60,559.70) scale(0.98,1)" text-anchor="middle" font-size="19.7" fill="#111">0</text>
<text class="se" transform="translate(1180.88,559.70) scale(0.98,1)" text-anchor="middle" font-size="19.7" fill="#111">10</text>
<text class="se" transform="translate(1271.16,559.70) scale(0.98,1)" text-anchor="middle" font-size="19.7" fill="#111">20</text>
<text class="se" transform="translate(1361.44,559.70) scale(0.98,1)" text-anchor="middle" font-size="19.7" fill="#111">30</text>
<text class="se" transform="translate(1451.72,559.70) scale(0.98,1)" text-anchor="middle" font-size="19.7" fill="#111">40</text>
<text class="se" transform="translate(1542.00,559.70) scale(0.98,1)" text-anchor="middle" font-size="19.7" fill="#111">50</text>
<text class="se" transform="translate(1632.28,559.70) scale(0.98,1)" text-anchor="middle" font-size="19.7" fill="#111">60</text>
<text class="se" transform="translate(1722.56,559.70) scale(0.98,1)" text-anchor="middle" font-size="19.7" fill="#111">70</text>
<text class="se" transform="translate(1812.84,559.70) scale(0.98,1)" text-anchor="middle" font-size="19.7" fill="#111">80</text>
<text class="se" transform="translate(1903.12,559.70) scale(0.98,1)" text-anchor="middle" font-size="19.7" fill="#111">90</text>
<text class="se" transform="translate(1993.90,559.70) scale(0.98,1)" text-anchor="middle" font-size="19.7" fill="#111">100</text>
<text class="se" transform="translate(522.60,584.70) scale(0.964,1)" text-anchor="middle" font-size="20.3" fill="#111">Time (s)</text>
<text class="se" transform="translate(1540.90,581.70) scale(1.036,1)" text-anchor="middle" font-size="20.3" fill="#111">Time (s)</text>
<text class="se" transform="translate(16.40,270.50) rotate(-90) scale(1.05,1)" text-anchor="middle" font-size="18.5" fill="#111"><tspan font-style="italic">&#981;</tspan> (rad)</text>
<text class="se" transform="translate(1040.00,270.30) rotate(-90) scale(1.1,1)" text-anchor="middle" font-size="20.5" fill="#111"><tspan font-style="italic" font-size="19">&#981;</tspan><tspan dx="-7.6" dy="-14.6" font-size="17">.</tspan><tspan dy="14.6" dx="3.6"> (rad/s)</tspan></text>
<rect x="830.15" y="23.4" width="123.35" height="48.7" fill="#fff" stroke="#262626" stroke-width="1.2"/>
<line x1="835.8" y1="36.1" x2="892.4" y2="36.1" stroke="#dd2026" stroke-width="1.25"/>
<line x1="835.8" y1="59.0" x2="890.1" y2="59.0" stroke="#6262dc" stroke-width="1.25" stroke-dasharray="9 6.1"/>
<text class="se" transform="translate(897.00,44.50)" text-anchor="start" font-size="19.4" fill="#111">Case 2</text>
<text class="se" transform="translate(897.00,66.20)" text-anchor="start" font-size="19.4" fill="#111">Case 1</text>
<rect x="1852.5" y="182.6" width="133.4" height="53.9" fill="#fff" stroke="#262626" stroke-width="1.2"/>
<line x1="1864.5" y1="196.7" x2="1919.9" y2="196.7" stroke="#dd2026" stroke-width="1.25"/>
<line x1="1864.5" y1="222.4" x2="1917.6000000000001" y2="222.4" stroke="#6262dc" stroke-width="1.25" stroke-dasharray="9 6.1"/>
<text class="se" transform="translate(1924.00,204.80)" text-anchor="start" font-size="19.4" fill="#111">Case 2</text>
<text class="se" transform="translate(1924.00,228.70)" text-anchor="start" font-size="19.4" fill="#111">Case 1</text>
<text class="sa" transform="translate(307.50,629.30)" text-anchor="start" font-size="37.8" fill="#111" font-weight="bold">(a)</text>
<text class="se" transform="translate(364.50,629.30) scale(1.034,1)" text-anchor="start" font-size="36.5" fill="#111" stroke="#111" stroke-width="0.3">The angle of pendulum <tspan font-style="italic" dx="2.5">&#981;</tspan></text>
<text class="sa" transform="translate(1248.30,629.30)" text-anchor="start" font-size="37.8" fill="#111" font-weight="bold">(b)</text>
<text class="se" transform="translate(1308.00,629.30) scale(1.034,1)" text-anchor="start" font-size="36.5" fill="#111" stroke="#111" stroke-width="0.3">The angular velocity of pendulum <tspan font-style="italic" dx="2.5">&#981;<tspan dx="-8.6" dy="-27" font-size="30">.</tspan></tspan></text>
</svg>
</body></html>
